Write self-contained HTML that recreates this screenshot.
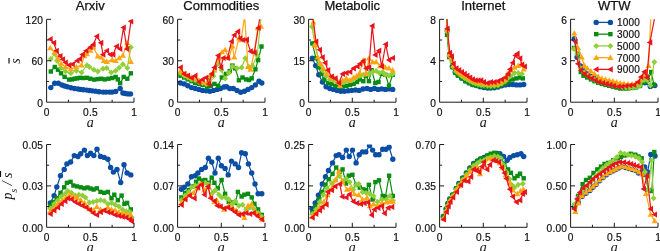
<!DOCTYPE html>
<html><head><meta charset="utf-8"><style>
html,body{margin:0;padding:0;background:#fff;}
svg{display:block;will-change:transform;}
.t{font-family:"Liberation Sans",sans-serif;font-size:10.2px;letter-spacing:0.2px;fill:#111;stroke:#111;stroke-width:0.2px;}
.ti{font-family:"Liberation Sans",sans-serif;font-size:13px;fill:#111;stroke:#111;stroke-width:0.25px;}
.lg{font-family:"Liberation Sans",sans-serif;font-size:10px;letter-spacing:0.2px;fill:#111;stroke:#111;stroke-width:0.2px;}
.ax{font-family:"Liberation Serif",serif;font-style:italic;font-size:14px;fill:#111;}
</style></head><body>
<svg width="660" height="251" viewBox="0 0 660 251">
<clipPath id="c00"><rect x="42.6" y="19.3" width="97.4" height="86.9"/></clipPath>
<g clip-path="url(#c00)">
<path d="M50.8 87.62 L54.73 83.2 L58.31 83.2 L61.9 84.93 L64.6 85.97 L67.31 86.73 L70.9 87.69 L74.48 88.52 L78.06 89.07 L80.69 89.42 L83.4 89.77 L86.8 90.11 L89.43 90.46 L92.4 90.87 L95.54 91.15 L99.04 91.7 L103.06 92.11 L106.03 92.11 L109.53 92.11 L112.15 92.11 L115.65 91.49 L120.19 88.52 L122.9 93.01 L125.26 93.56 L127.88 93.91 L130.5 93.91" fill="none" stroke="#0b4ea6" stroke-width="1.2" stroke-linejoin="round"/>
<circle cx="50.8" cy="87.62" r="2.7" fill="#0b4ea6"/>
<circle cx="54.73" cy="83.2" r="2.7" fill="#0b4ea6"/>
<circle cx="58.31" cy="83.2" r="2.7" fill="#0b4ea6"/>
<circle cx="61.9" cy="84.93" r="2.7" fill="#0b4ea6"/>
<circle cx="64.6" cy="85.97" r="2.7" fill="#0b4ea6"/>
<circle cx="67.31" cy="86.73" r="2.7" fill="#0b4ea6"/>
<circle cx="70.9" cy="87.69" r="2.7" fill="#0b4ea6"/>
<circle cx="74.48" cy="88.52" r="2.7" fill="#0b4ea6"/>
<circle cx="78.06" cy="89.07" r="2.7" fill="#0b4ea6"/>
<circle cx="80.69" cy="89.42" r="2.7" fill="#0b4ea6"/>
<circle cx="83.4" cy="89.77" r="2.7" fill="#0b4ea6"/>
<circle cx="86.8" cy="90.11" r="2.7" fill="#0b4ea6"/>
<circle cx="89.43" cy="90.46" r="2.7" fill="#0b4ea6"/>
<circle cx="92.4" cy="90.87" r="2.7" fill="#0b4ea6"/>
<circle cx="95.54" cy="91.15" r="2.7" fill="#0b4ea6"/>
<circle cx="99.04" cy="91.7" r="2.7" fill="#0b4ea6"/>
<circle cx="103.06" cy="92.11" r="2.7" fill="#0b4ea6"/>
<circle cx="106.03" cy="92.11" r="2.7" fill="#0b4ea6"/>
<circle cx="109.53" cy="92.11" r="2.7" fill="#0b4ea6"/>
<circle cx="112.15" cy="92.11" r="2.7" fill="#0b4ea6"/>
<circle cx="115.65" cy="91.49" r="2.7" fill="#0b4ea6"/>
<circle cx="120.19" cy="88.52" r="2.7" fill="#0b4ea6"/>
<circle cx="122.9" cy="93.01" r="2.7" fill="#0b4ea6"/>
<circle cx="125.26" cy="93.56" r="2.7" fill="#0b4ea6"/>
<circle cx="127.88" cy="93.91" r="2.7" fill="#0b4ea6"/>
<circle cx="130.5" cy="93.91" r="2.7" fill="#0b4ea6"/>
<path d="M50.8 71.53 L54.73 66.97 L57.96 69.73 L61.02 73.32 L64.6 76.92 L69.06 79.61 L71.95 79.4 L74.57 78.71 L77.19 78.37 L79.81 77.81 L83.31 78.02 L86.98 77.81 L90.3 78.71 L94.23 79.61 L97.73 79.06 L101.31 78.71 L104.72 79.4 L108.48 78.71 L112.15 78.02 L115.65 76.92 L117.83 79.4 L120.19 83.2 L123.69 76.92 L127.27 78.71 L130.85 73.32" fill="none" stroke="#0a8c12" stroke-width="1.2" stroke-linejoin="round"/>
<rect x="48.6" y="69.33" width="4.4" height="4.4" fill="#0a8c12"/>
<rect x="52.53" y="64.77" width="4.4" height="4.4" fill="#0a8c12"/>
<rect x="55.76" y="67.53" width="4.4" height="4.4" fill="#0a8c12"/>
<rect x="58.82" y="71.12" width="4.4" height="4.4" fill="#0a8c12"/>
<rect x="62.4" y="74.72" width="4.4" height="4.4" fill="#0a8c12"/>
<rect x="66.86" y="77.41" width="4.4" height="4.4" fill="#0a8c12"/>
<rect x="69.75" y="77.2" width="4.4" height="4.4" fill="#0a8c12"/>
<rect x="72.37" y="76.51" width="4.4" height="4.4" fill="#0a8c12"/>
<rect x="74.99" y="76.17" width="4.4" height="4.4" fill="#0a8c12"/>
<rect x="77.61" y="75.61" width="4.4" height="4.4" fill="#0a8c12"/>
<rect x="81.11" y="75.82" width="4.4" height="4.4" fill="#0a8c12"/>
<rect x="84.78" y="75.61" width="4.4" height="4.4" fill="#0a8c12"/>
<rect x="88.1" y="76.51" width="4.4" height="4.4" fill="#0a8c12"/>
<rect x="92.03" y="77.41" width="4.4" height="4.4" fill="#0a8c12"/>
<rect x="95.53" y="76.86" width="4.4" height="4.4" fill="#0a8c12"/>
<rect x="99.11" y="76.51" width="4.4" height="4.4" fill="#0a8c12"/>
<rect x="102.52" y="77.2" width="4.4" height="4.4" fill="#0a8c12"/>
<rect x="106.28" y="76.51" width="4.4" height="4.4" fill="#0a8c12"/>
<rect x="109.95" y="75.82" width="4.4" height="4.4" fill="#0a8c12"/>
<rect x="113.45" y="74.72" width="4.4" height="4.4" fill="#0a8c12"/>
<rect x="115.63" y="77.2" width="4.4" height="4.4" fill="#0a8c12"/>
<rect x="117.99" y="81" width="4.4" height="4.4" fill="#0a8c12"/>
<rect x="121.49" y="74.72" width="4.4" height="4.4" fill="#0a8c12"/>
<rect x="125.07" y="76.51" width="4.4" height="4.4" fill="#0a8c12"/>
<rect x="128.65" y="71.12" width="4.4" height="4.4" fill="#0a8c12"/>
<path d="M50.8 59.02 L54.73 53.63 L57.09 60.75 L61.02 67.93 L65.48 71.53 L70.9 73.32 L76.32 70.63 L81.56 72.43 L86.98 65.17 L89.43 66.97 L93.8 69.73 L97.82 71.53 L103.06 68.83 L106.73 67.93 L111.19 72.43 L115.65 70.63 L119.14 67.66 L122.9 64.27 L127.27 67.93 L130.85 47.21" fill="none" stroke="#8fd03a" stroke-width="1.2" stroke-linejoin="round"/>
<path d="M50.8 56.02L53.8 59.02L50.8 62.02L47.8 59.02Z" fill="#8fd03a"/>
<path d="M54.73 50.63L57.73 53.63L54.73 56.63L51.73 53.63Z" fill="#8fd03a"/>
<path d="M57.09 57.75L60.09 60.75L57.09 63.75L54.09 60.75Z" fill="#8fd03a"/>
<path d="M61.02 64.93L64.02 67.93L61.02 70.93L58.02 67.93Z" fill="#8fd03a"/>
<path d="M65.48 68.53L68.48 71.53L65.48 74.53L62.48 71.53Z" fill="#8fd03a"/>
<path d="M70.9 70.32L73.9 73.32L70.9 76.32L67.9 73.32Z" fill="#8fd03a"/>
<path d="M76.32 67.63L79.32 70.63L76.32 73.63L73.32 70.63Z" fill="#8fd03a"/>
<path d="M81.56 69.43L84.56 72.43L81.56 75.43L78.56 72.43Z" fill="#8fd03a"/>
<path d="M86.98 62.17L89.98 65.17L86.98 68.17L83.98 65.17Z" fill="#8fd03a"/>
<path d="M89.43 63.97L92.43 66.97L89.43 69.97L86.43 66.97Z" fill="#8fd03a"/>
<path d="M93.8 66.73L96.8 69.73L93.8 72.73L90.8 69.73Z" fill="#8fd03a"/>
<path d="M97.82 68.53L100.82 71.53L97.82 74.53L94.82 71.53Z" fill="#8fd03a"/>
<path d="M103.06 65.83L106.06 68.83L103.06 71.83L100.06 68.83Z" fill="#8fd03a"/>
<path d="M106.73 64.93L109.73 67.93L106.73 70.93L103.73 67.93Z" fill="#8fd03a"/>
<path d="M111.19 69.43L114.19 72.43L111.19 75.43L108.19 72.43Z" fill="#8fd03a"/>
<path d="M115.65 67.63L118.65 70.63L115.65 73.63L112.65 70.63Z" fill="#8fd03a"/>
<path d="M119.14 64.66L122.14 67.66L119.14 70.66L116.14 67.66Z" fill="#8fd03a"/>
<path d="M122.9 61.27L125.9 64.27L122.9 67.27L119.9 64.27Z" fill="#8fd03a"/>
<path d="M127.27 64.93L130.27 67.93L127.27 70.93L124.27 67.93Z" fill="#8fd03a"/>
<path d="M130.85 44.21L133.85 47.21L130.85 50.21L127.85 47.21Z" fill="#8fd03a"/>
<path d="M50.27 47.97 L54.47 52.46 L57.96 58.68 L61.02 63.51 L65.48 66.97 L70.9 68.83 L76.32 66.97 L81.56 65.17 L84.18 55.91 L86.8 53.84 L90.3 50.39 L93.27 47.21 L97.82 56.12 L101.31 57.3 L103.85 60.75 L106.73 61.58 L112.15 59.92 L115.65 60.75 L119.14 57.99 L122.9 55.36 L127.27 42.79 L130.85 61.58" fill="none" stroke="#ffa510" stroke-width="1.2" stroke-linejoin="round"/>
<path d="M50.27 44.87L53.37 50.29L47.17 50.29Z" fill="#ffa510"/>
<path d="M54.47 49.36L57.57 54.79L51.37 54.79Z" fill="#ffa510"/>
<path d="M57.96 55.58L61.06 61L54.86 61Z" fill="#ffa510"/>
<path d="M61.02 60.41L64.12 65.84L57.92 65.84Z" fill="#ffa510"/>
<path d="M65.48 63.87L68.58 69.29L62.38 69.29Z" fill="#ffa510"/>
<path d="M70.9 65.73L74 71.16L67.8 71.16Z" fill="#ffa510"/>
<path d="M76.32 63.87L79.42 69.29L73.22 69.29Z" fill="#ffa510"/>
<path d="M81.56 62.07L84.66 67.5L78.46 67.5Z" fill="#ffa510"/>
<path d="M84.18 52.81L87.28 58.24L81.08 58.24Z" fill="#ffa510"/>
<path d="M86.8 50.74L89.9 56.17L83.7 56.17Z" fill="#ffa510"/>
<path d="M90.3 47.29L93.4 52.71L87.2 52.71Z" fill="#ffa510"/>
<path d="M93.27 44.11L96.37 49.53L90.17 49.53Z" fill="#ffa510"/>
<path d="M97.82 53.02L100.92 58.45L94.72 58.45Z" fill="#ffa510"/>
<path d="M101.31 54.2L104.41 59.62L98.21 59.62Z" fill="#ffa510"/>
<path d="M103.85 57.65L106.95 63.08L100.75 63.08Z" fill="#ffa510"/>
<path d="M106.73 58.48L109.83 63.9L103.63 63.9Z" fill="#ffa510"/>
<path d="M112.15 56.82L115.25 62.25L109.05 62.25Z" fill="#ffa510"/>
<path d="M115.65 57.65L118.75 63.08L112.55 63.08Z" fill="#ffa510"/>
<path d="M119.14 54.89L122.24 60.31L116.04 60.31Z" fill="#ffa510"/>
<path d="M122.9 52.26L126 57.69L119.8 57.69Z" fill="#ffa510"/>
<path d="M127.27 39.69L130.37 45.11L124.17 45.11Z" fill="#ffa510"/>
<path d="M130.85 58.48L133.95 63.9L127.75 63.9Z" fill="#ffa510"/>
<path d="M50.27 39.13 L53.85 42.79 L56.48 50.73 L60.15 56.12 L62.77 59.37 L65.48 62.48 L69.06 65.17 L72.47 64.27 L77.19 60.75 L79.81 59.02 L82.43 54.53 L86.1 50.73 L90.3 47.21 L93.27 44.52 L96.86 36.36 L100.96 42.79 L103.06 54.53 L106.73 50.73 L110.31 54.53 L113.02 54.53 L116.52 46.31 L120.02 49.01 L123.51 27.59 L127.01 49.01 L130.94 21.37" fill="none" stroke="#e8141c" stroke-width="1.2" stroke-linejoin="round"/>
<path d="M47.17 39.13L52.6 36.03L52.6 42.23Z" fill="#e8141c"/>
<path d="M50.75 42.79L56.18 39.69L56.18 45.89Z" fill="#e8141c"/>
<path d="M53.38 50.73L58.8 47.63L58.8 53.83Z" fill="#e8141c"/>
<path d="M57.05 56.12L62.47 53.02L62.47 59.22Z" fill="#e8141c"/>
<path d="M59.67 59.37L65.09 56.27L65.09 62.47Z" fill="#e8141c"/>
<path d="M62.38 62.48L67.8 59.38L67.8 65.58Z" fill="#e8141c"/>
<path d="M65.96 65.17L71.39 62.07L71.39 68.27Z" fill="#e8141c"/>
<path d="M69.37 64.27L74.8 61.17L74.8 67.37Z" fill="#e8141c"/>
<path d="M74.09 60.75L79.52 57.65L79.52 63.85Z" fill="#e8141c"/>
<path d="M76.71 59.02L82.14 55.92L82.14 62.12Z" fill="#e8141c"/>
<path d="M79.33 54.53L84.76 51.43L84.76 57.63Z" fill="#e8141c"/>
<path d="M83 50.73L88.43 47.63L88.43 53.83Z" fill="#e8141c"/>
<path d="M87.2 47.21L92.63 44.11L92.63 50.31Z" fill="#e8141c"/>
<path d="M90.17 44.52L95.6 41.42L95.6 47.62Z" fill="#e8141c"/>
<path d="M93.76 36.36L99.18 33.26L99.18 39.46Z" fill="#e8141c"/>
<path d="M97.86 42.79L103.29 39.69L103.29 45.89Z" fill="#e8141c"/>
<path d="M99.96 54.53L105.39 51.43L105.39 57.63Z" fill="#e8141c"/>
<path d="M103.63 50.73L109.06 47.63L109.06 53.83Z" fill="#e8141c"/>
<path d="M107.21 54.53L112.64 51.43L112.64 57.63Z" fill="#e8141c"/>
<path d="M109.92 54.53L115.35 51.43L115.35 57.63Z" fill="#e8141c"/>
<path d="M113.42 46.31L118.85 43.21L118.85 49.41Z" fill="#e8141c"/>
<path d="M116.92 49.01L122.34 45.91L122.34 52.11Z" fill="#e8141c"/>
<path d="M120.41 27.59L125.84 24.49L125.84 30.69Z" fill="#e8141c"/>
<path d="M123.91 49.01L129.33 45.91L129.33 52.11Z" fill="#e8141c"/>
<path d="M127.84 21.37L133.27 18.27L133.27 24.47Z" fill="#e8141c"/>
</g>
<path d="M46.6 19.3V102.2H134" fill="none" stroke="#1a1a1a" stroke-width="1"/>
<path d="M46.6 19.3h4.5M46.6 40.02h2.5M46.6 60.75h4.5M46.6 81.47h2.5M68.45 102.2v-2.5M90.3 102.2v-4.5M112.15 102.2v-2.5M134 102.2v-4.5" fill="none" stroke="#1a1a1a" stroke-width="1"/>
<text x="43.2" y="23.8" text-anchor="end" class="t">120</text>
<text x="43.2" y="65.25" text-anchor="end" class="t">60</text>
<text x="43.2" y="106.7" text-anchor="end" class="t">0</text>
<text x="46.8" y="115.7" text-anchor="middle" class="t">0</text>
<text x="90.5" y="115.7" text-anchor="middle" class="t">0.5</text>
<text x="134.2" y="115.7" text-anchor="middle" class="t">1</text>
<text x="90.3" y="126.8" text-anchor="middle" class="ax">a</text>
<text x="90.3" y="9.8" text-anchor="middle" class="ti">Arxiv</text>
<clipPath id="c01"><rect x="173.6" y="19.3" width="97.4" height="86.9"/></clipPath>
<g clip-path="url(#c01)">
<path d="M180.5 83 L184.2 83.9 L187.8 85.8 L191.5 87.6 L195.2 88.5 L198.9 89.4 L202.5 90.4 L206.2 90.7 L209.9 91.3 L213.5 90.4 L217.2 89.4 L220.5 88.5 L224 87 L226.5 86.7 L229.7 88.5 L233.3 88.5 L237 90.4 L240.7 92.2 L244.4 91.3 L248 89.4 L251.7 87.6 L255.4 84.9 L259 81.2 L261.8 83" fill="none" stroke="#0b4ea6" stroke-width="1.2" stroke-linejoin="round"/>
<circle cx="180.5" cy="83" r="2.7" fill="#0b4ea6"/>
<circle cx="184.2" cy="83.9" r="2.7" fill="#0b4ea6"/>
<circle cx="187.8" cy="85.8" r="2.7" fill="#0b4ea6"/>
<circle cx="191.5" cy="87.6" r="2.7" fill="#0b4ea6"/>
<circle cx="195.2" cy="88.5" r="2.7" fill="#0b4ea6"/>
<circle cx="198.9" cy="89.4" r="2.7" fill="#0b4ea6"/>
<circle cx="202.5" cy="90.4" r="2.7" fill="#0b4ea6"/>
<circle cx="206.2" cy="90.7" r="2.7" fill="#0b4ea6"/>
<circle cx="209.9" cy="91.3" r="2.7" fill="#0b4ea6"/>
<circle cx="213.5" cy="90.4" r="2.7" fill="#0b4ea6"/>
<circle cx="217.2" cy="89.4" r="2.7" fill="#0b4ea6"/>
<circle cx="220.5" cy="88.5" r="2.7" fill="#0b4ea6"/>
<circle cx="224" cy="87" r="2.7" fill="#0b4ea6"/>
<circle cx="226.5" cy="86.7" r="2.7" fill="#0b4ea6"/>
<circle cx="229.7" cy="88.5" r="2.7" fill="#0b4ea6"/>
<circle cx="233.3" cy="88.5" r="2.7" fill="#0b4ea6"/>
<circle cx="237" cy="90.4" r="2.7" fill="#0b4ea6"/>
<circle cx="240.7" cy="92.2" r="2.7" fill="#0b4ea6"/>
<circle cx="244.4" cy="91.3" r="2.7" fill="#0b4ea6"/>
<circle cx="248" cy="89.4" r="2.7" fill="#0b4ea6"/>
<circle cx="251.7" cy="87.6" r="2.7" fill="#0b4ea6"/>
<circle cx="255.4" cy="84.9" r="2.7" fill="#0b4ea6"/>
<circle cx="259" cy="81.2" r="2.7" fill="#0b4ea6"/>
<circle cx="261.8" cy="83" r="2.7" fill="#0b4ea6"/>
<path d="M180.5 75.7 L184.2 77.5 L187.8 79.4 L191.5 81.2 L195.2 83 L198.9 83.9 L202.5 84.9 L207.1 86.7 L210.8 85.8 L214.4 83.9 L218.1 85.8 L221.8 77.5 L226 73.9 L229.7 71.1 L232.4 65.6 L235.2 68.3 L238.9 80.3 L242.5 77.5 L246.2 79.4 L249 80 L251.7 78.4 L255.4 69.3 L258.1 60.1 L261.5 46.5" fill="none" stroke="#0a8c12" stroke-width="1.2" stroke-linejoin="round"/>
<rect x="178.3" y="73.5" width="4.4" height="4.4" fill="#0a8c12"/>
<rect x="182" y="75.3" width="4.4" height="4.4" fill="#0a8c12"/>
<rect x="185.6" y="77.2" width="4.4" height="4.4" fill="#0a8c12"/>
<rect x="189.3" y="79" width="4.4" height="4.4" fill="#0a8c12"/>
<rect x="193" y="80.8" width="4.4" height="4.4" fill="#0a8c12"/>
<rect x="196.7" y="81.7" width="4.4" height="4.4" fill="#0a8c12"/>
<rect x="200.3" y="82.7" width="4.4" height="4.4" fill="#0a8c12"/>
<rect x="204.9" y="84.5" width="4.4" height="4.4" fill="#0a8c12"/>
<rect x="208.6" y="83.6" width="4.4" height="4.4" fill="#0a8c12"/>
<rect x="212.2" y="81.7" width="4.4" height="4.4" fill="#0a8c12"/>
<rect x="215.9" y="83.6" width="4.4" height="4.4" fill="#0a8c12"/>
<rect x="219.6" y="75.3" width="4.4" height="4.4" fill="#0a8c12"/>
<rect x="223.8" y="71.7" width="4.4" height="4.4" fill="#0a8c12"/>
<rect x="227.5" y="68.9" width="4.4" height="4.4" fill="#0a8c12"/>
<rect x="230.2" y="63.4" width="4.4" height="4.4" fill="#0a8c12"/>
<rect x="233" y="66.1" width="4.4" height="4.4" fill="#0a8c12"/>
<rect x="236.7" y="78.1" width="4.4" height="4.4" fill="#0a8c12"/>
<rect x="240.3" y="75.3" width="4.4" height="4.4" fill="#0a8c12"/>
<rect x="244" y="77.2" width="4.4" height="4.4" fill="#0a8c12"/>
<rect x="246.8" y="77.8" width="4.4" height="4.4" fill="#0a8c12"/>
<rect x="249.5" y="76.2" width="4.4" height="4.4" fill="#0a8c12"/>
<rect x="253.2" y="67.1" width="4.4" height="4.4" fill="#0a8c12"/>
<rect x="255.9" y="57.9" width="4.4" height="4.4" fill="#0a8c12"/>
<rect x="259.3" y="44.3" width="4.4" height="4.4" fill="#0a8c12"/>
<path d="M180.5 72.9 L184.2 75.7 L187.8 77.5 L191.5 79.4 L195.2 80.3 L198.9 82.1 L202.5 83 L206.2 83.9 L209.9 79.4 L213.5 76 L217.8 63.8 L221.5 70 L225.1 78.4 L228.8 72.9 L232.4 66.5 L237 68.3 L241.6 67.4 L245.3 58.3 L249 67 L252.5 66 L257.2 55.5 L262.3 4" fill="none" stroke="#8fd03a" stroke-width="1.2" stroke-linejoin="round"/>
<path d="M180.5 69.9L183.5 72.9L180.5 75.9L177.5 72.9Z" fill="#8fd03a"/>
<path d="M184.2 72.7L187.2 75.7L184.2 78.7L181.2 75.7Z" fill="#8fd03a"/>
<path d="M187.8 74.5L190.8 77.5L187.8 80.5L184.8 77.5Z" fill="#8fd03a"/>
<path d="M191.5 76.4L194.5 79.4L191.5 82.4L188.5 79.4Z" fill="#8fd03a"/>
<path d="M195.2 77.3L198.2 80.3L195.2 83.3L192.2 80.3Z" fill="#8fd03a"/>
<path d="M198.9 79.1L201.9 82.1L198.9 85.1L195.9 82.1Z" fill="#8fd03a"/>
<path d="M202.5 80L205.5 83L202.5 86L199.5 83Z" fill="#8fd03a"/>
<path d="M206.2 80.9L209.2 83.9L206.2 86.9L203.2 83.9Z" fill="#8fd03a"/>
<path d="M209.9 76.4L212.9 79.4L209.9 82.4L206.9 79.4Z" fill="#8fd03a"/>
<path d="M213.5 73L216.5 76L213.5 79L210.5 76Z" fill="#8fd03a"/>
<path d="M217.8 60.8L220.8 63.8L217.8 66.8L214.8 63.8Z" fill="#8fd03a"/>
<path d="M221.5 67L224.5 70L221.5 73L218.5 70Z" fill="#8fd03a"/>
<path d="M225.1 75.4L228.1 78.4L225.1 81.4L222.1 78.4Z" fill="#8fd03a"/>
<path d="M228.8 69.9L231.8 72.9L228.8 75.9L225.8 72.9Z" fill="#8fd03a"/>
<path d="M232.4 63.5L235.4 66.5L232.4 69.5L229.4 66.5Z" fill="#8fd03a"/>
<path d="M237 65.3L240 68.3L237 71.3L234 68.3Z" fill="#8fd03a"/>
<path d="M241.6 64.4L244.6 67.4L241.6 70.4L238.6 67.4Z" fill="#8fd03a"/>
<path d="M245.3 55.3L248.3 58.3L245.3 61.3L242.3 58.3Z" fill="#8fd03a"/>
<path d="M249 64L252 67L249 70L246 67Z" fill="#8fd03a"/>
<path d="M252.5 63L255.5 66L252.5 69L249.5 66Z" fill="#8fd03a"/>
<path d="M257.2 52.5L260.2 55.5L257.2 58.5L254.2 55.5Z" fill="#8fd03a"/>
<path d="M262.3 1L265.3 4L262.3 7L259.3 4Z" fill="#8fd03a"/>
<path d="M180.5 71.1 L184.2 73.9 L187.8 75.7 L191.5 77.5 L195.2 78.4 L198.9 80.3 L202.5 82.1 L207.1 83 L210.8 74.8 L214.4 70.2 L219 58.3 L222 52 L225.1 49.8 L228.8 58 L232.4 46.1 L234.3 57.1 L238.9 38.3 L241 40 L244.7 16.3 L248 66.8 L250.5 69.4 L254.4 51.3 L257.8 28 L261 26.5" fill="none" stroke="#ffa510" stroke-width="1.2" stroke-linejoin="round"/>
<path d="M180.5 68L183.6 73.42L177.4 73.42Z" fill="#ffa510"/>
<path d="M184.2 70.8L187.3 76.23L181.1 76.23Z" fill="#ffa510"/>
<path d="M187.8 72.6L190.9 78.03L184.7 78.03Z" fill="#ffa510"/>
<path d="M191.5 74.4L194.6 79.83L188.4 79.83Z" fill="#ffa510"/>
<path d="M195.2 75.3L198.3 80.73L192.1 80.73Z" fill="#ffa510"/>
<path d="M198.9 77.2L202 82.62L195.8 82.62Z" fill="#ffa510"/>
<path d="M202.5 79L205.6 84.42L199.4 84.42Z" fill="#ffa510"/>
<path d="M207.1 79.9L210.2 85.33L204 85.33Z" fill="#ffa510"/>
<path d="M210.8 71.7L213.9 77.12L207.7 77.12Z" fill="#ffa510"/>
<path d="M214.4 67.1L217.5 72.53L211.3 72.53Z" fill="#ffa510"/>
<path d="M219 55.2L222.1 60.62L215.9 60.62Z" fill="#ffa510"/>
<path d="M222 48.9L225.1 54.33L218.9 54.33Z" fill="#ffa510"/>
<path d="M225.1 46.7L228.2 52.12L222 52.12Z" fill="#ffa510"/>
<path d="M228.8 54.9L231.9 60.33L225.7 60.33Z" fill="#ffa510"/>
<path d="M232.4 43L235.5 48.43L229.3 48.43Z" fill="#ffa510"/>
<path d="M234.3 54L237.4 59.43L231.2 59.43Z" fill="#ffa510"/>
<path d="M238.9 35.2L242 40.62L235.8 40.62Z" fill="#ffa510"/>
<path d="M241 36.9L244.1 42.33L237.9 42.33Z" fill="#ffa510"/>
<path d="M244.7 13.2L247.8 18.62L241.6 18.62Z" fill="#ffa510"/>
<path d="M248 63.7L251.1 69.12L244.9 69.12Z" fill="#ffa510"/>
<path d="M250.5 66.3L253.6 71.73L247.4 71.73Z" fill="#ffa510"/>
<path d="M254.4 48.2L257.5 53.62L251.3 53.62Z" fill="#ffa510"/>
<path d="M257.8 24.9L260.9 30.32L254.7 30.32Z" fill="#ffa510"/>
<path d="M261 23.4L264.1 28.82L257.9 28.82Z" fill="#ffa510"/>
<path d="M180.5 67.4 L184.2 73.9 L187.8 75.7 L191.5 78 L195.2 75.7 L198.9 82.1 L202.5 79.4 L206.2 77.5 L208.9 83.9 L211.7 73.9 L214.4 67.4 L218.1 55.5 L220.9 67.4 L223.3 58 L227.5 58 L231.5 41.5 L234.3 35.1 L237.9 31.4 L240.2 38.3 L243 40 L246.7 39.6 L250.5 51.3 L254.4 52.6 L258.3 28 L261.6 4" fill="none" stroke="#e8141c" stroke-width="1.2" stroke-linejoin="round"/>
<path d="M177.4 67.4L182.82 64.3L182.82 70.5Z" fill="#e8141c"/>
<path d="M181.1 73.9L186.52 70.8L186.52 77Z" fill="#e8141c"/>
<path d="M184.7 75.7L190.12 72.6L190.12 78.8Z" fill="#e8141c"/>
<path d="M188.4 78L193.82 74.9L193.82 81.1Z" fill="#e8141c"/>
<path d="M192.1 75.7L197.52 72.6L197.52 78.8Z" fill="#e8141c"/>
<path d="M195.8 82.1L201.22 79L201.22 85.2Z" fill="#e8141c"/>
<path d="M199.4 79.4L204.82 76.3L204.82 82.5Z" fill="#e8141c"/>
<path d="M203.1 77.5L208.52 74.4L208.52 80.6Z" fill="#e8141c"/>
<path d="M205.8 83.9L211.22 80.8L211.22 87Z" fill="#e8141c"/>
<path d="M208.6 73.9L214.02 70.8L214.02 77Z" fill="#e8141c"/>
<path d="M211.3 67.4L216.72 64.3L216.72 70.5Z" fill="#e8141c"/>
<path d="M215 55.5L220.42 52.4L220.42 58.6Z" fill="#e8141c"/>
<path d="M217.8 67.4L223.22 64.3L223.22 70.5Z" fill="#e8141c"/>
<path d="M220.2 58L225.62 54.9L225.62 61.1Z" fill="#e8141c"/>
<path d="M224.4 58L229.82 54.9L229.82 61.1Z" fill="#e8141c"/>
<path d="M228.4 41.5L233.82 38.4L233.82 44.6Z" fill="#e8141c"/>
<path d="M231.2 35.1L236.62 32L236.62 38.2Z" fill="#e8141c"/>
<path d="M234.8 31.4L240.22 28.3L240.22 34.5Z" fill="#e8141c"/>
<path d="M237.1 38.3L242.52 35.2L242.52 41.4Z" fill="#e8141c"/>
<path d="M239.9 40L245.32 36.9L245.32 43.1Z" fill="#e8141c"/>
<path d="M243.6 39.6L249.02 36.5L249.02 42.7Z" fill="#e8141c"/>
<path d="M247.4 51.3L252.82 48.2L252.82 54.4Z" fill="#e8141c"/>
<path d="M251.3 52.6L256.73 49.5L256.73 55.7Z" fill="#e8141c"/>
<path d="M255.2 28L260.62 24.9L260.62 31.1Z" fill="#e8141c"/>
<path d="M258.5 4L263.93 0.9L263.93 7.1Z" fill="#e8141c"/>
</g>
<path d="M177.6 19.3V102.2H265" fill="none" stroke="#1a1a1a" stroke-width="1"/>
<path d="M177.6 19.3h4.5M177.6 40.02h2.5M177.6 60.75h4.5M177.6 81.47h2.5M199.45 102.2v-2.5M221.3 102.2v-4.5M243.15 102.2v-2.5M265 102.2v-4.5" fill="none" stroke="#1a1a1a" stroke-width="1"/>
<text x="174.2" y="23.8" text-anchor="end" class="t">60</text>
<text x="174.2" y="65.25" text-anchor="end" class="t">30</text>
<text x="174.2" y="106.7" text-anchor="end" class="t">0</text>
<text x="177.8" y="115.7" text-anchor="middle" class="t">0</text>
<text x="221.5" y="115.7" text-anchor="middle" class="t">0.5</text>
<text x="265.2" y="115.7" text-anchor="middle" class="t">1</text>
<text x="221.3" y="126.8" text-anchor="middle" class="ax">a</text>
<text x="221.3" y="9.8" text-anchor="middle" class="ti">Commodities</text>
<clipPath id="c02"><rect x="304.6" y="19.3" width="97.4" height="86.9"/></clipPath>
<g clip-path="url(#c02)">
<path d="M312.3 58.3 L315.6 65.6 L318.8 74.8 L322.4 82.1 L326.1 86.7 L329.8 88.5 L333.4 89.4 L337.1 90.4 L340.8 91.3 L344.4 91.3 L348.1 90.7 L351.8 90.4 L355.5 90 L359.1 90.4 L363 89 L367 88.5 L370.7 89.4 L374.4 88.5 L378 89.4 L381.7 88.9 L385.4 89.4 L389 88.9 L392.7 89.4" fill="none" stroke="#0b4ea6" stroke-width="1.2" stroke-linejoin="round"/>
<circle cx="312.3" cy="58.3" r="2.7" fill="#0b4ea6"/>
<circle cx="315.6" cy="65.6" r="2.7" fill="#0b4ea6"/>
<circle cx="318.8" cy="74.8" r="2.7" fill="#0b4ea6"/>
<circle cx="322.4" cy="82.1" r="2.7" fill="#0b4ea6"/>
<circle cx="326.1" cy="86.7" r="2.7" fill="#0b4ea6"/>
<circle cx="329.8" cy="88.5" r="2.7" fill="#0b4ea6"/>
<circle cx="333.4" cy="89.4" r="2.7" fill="#0b4ea6"/>
<circle cx="337.1" cy="90.4" r="2.7" fill="#0b4ea6"/>
<circle cx="340.8" cy="91.3" r="2.7" fill="#0b4ea6"/>
<circle cx="344.4" cy="91.3" r="2.7" fill="#0b4ea6"/>
<circle cx="348.1" cy="90.7" r="2.7" fill="#0b4ea6"/>
<circle cx="351.8" cy="90.4" r="2.7" fill="#0b4ea6"/>
<circle cx="355.5" cy="90" r="2.7" fill="#0b4ea6"/>
<circle cx="359.1" cy="90.4" r="2.7" fill="#0b4ea6"/>
<circle cx="363" cy="89" r="2.7" fill="#0b4ea6"/>
<circle cx="367" cy="88.5" r="2.7" fill="#0b4ea6"/>
<circle cx="370.7" cy="89.4" r="2.7" fill="#0b4ea6"/>
<circle cx="374.4" cy="88.5" r="2.7" fill="#0b4ea6"/>
<circle cx="378" cy="89.4" r="2.7" fill="#0b4ea6"/>
<circle cx="381.7" cy="88.9" r="2.7" fill="#0b4ea6"/>
<circle cx="385.4" cy="89.4" r="2.7" fill="#0b4ea6"/>
<circle cx="389" cy="88.9" r="2.7" fill="#0b4ea6"/>
<circle cx="392.7" cy="89.4" r="2.7" fill="#0b4ea6"/>
<path d="M312.3 43.4 L316 58.3 L318.8 67.4 L321.5 73.9 L324.3 79.4 L327.9 83 L331.6 83.9 L335.3 85.8 L338.9 86.7 L342.6 86.7 L346.3 85.8 L350 84.9 L353.6 83.9 L357 82 L359.7 79.4 L363.3 81.2 L366 76 L368.9 81.2 L371.6 70.2 L375.3 83 L378.5 82 L381.7 73.9 L385.4 74.8 L389 85.8 L392.7 74.8" fill="none" stroke="#0a8c12" stroke-width="1.2" stroke-linejoin="round"/>
<rect x="310.1" y="41.2" width="4.4" height="4.4" fill="#0a8c12"/>
<rect x="313.8" y="56.1" width="4.4" height="4.4" fill="#0a8c12"/>
<rect x="316.6" y="65.2" width="4.4" height="4.4" fill="#0a8c12"/>
<rect x="319.3" y="71.7" width="4.4" height="4.4" fill="#0a8c12"/>
<rect x="322.1" y="77.2" width="4.4" height="4.4" fill="#0a8c12"/>
<rect x="325.7" y="80.8" width="4.4" height="4.4" fill="#0a8c12"/>
<rect x="329.4" y="81.7" width="4.4" height="4.4" fill="#0a8c12"/>
<rect x="333.1" y="83.6" width="4.4" height="4.4" fill="#0a8c12"/>
<rect x="336.7" y="84.5" width="4.4" height="4.4" fill="#0a8c12"/>
<rect x="340.4" y="84.5" width="4.4" height="4.4" fill="#0a8c12"/>
<rect x="344.1" y="83.6" width="4.4" height="4.4" fill="#0a8c12"/>
<rect x="347.8" y="82.7" width="4.4" height="4.4" fill="#0a8c12"/>
<rect x="351.4" y="81.7" width="4.4" height="4.4" fill="#0a8c12"/>
<rect x="354.8" y="79.8" width="4.4" height="4.4" fill="#0a8c12"/>
<rect x="357.5" y="77.2" width="4.4" height="4.4" fill="#0a8c12"/>
<rect x="361.1" y="79" width="4.4" height="4.4" fill="#0a8c12"/>
<rect x="363.8" y="73.8" width="4.4" height="4.4" fill="#0a8c12"/>
<rect x="366.7" y="79" width="4.4" height="4.4" fill="#0a8c12"/>
<rect x="369.4" y="68" width="4.4" height="4.4" fill="#0a8c12"/>
<rect x="373.1" y="80.8" width="4.4" height="4.4" fill="#0a8c12"/>
<rect x="376.3" y="79.8" width="4.4" height="4.4" fill="#0a8c12"/>
<rect x="379.5" y="71.7" width="4.4" height="4.4" fill="#0a8c12"/>
<rect x="383.2" y="72.6" width="4.4" height="4.4" fill="#0a8c12"/>
<rect x="386.8" y="83.6" width="4.4" height="4.4" fill="#0a8c12"/>
<rect x="390.5" y="72.6" width="4.4" height="4.4" fill="#0a8c12"/>
<path d="M312 26.8 L315 45 L319.7 63.8 L322.4 70.2 L326.1 75.7 L329.8 79.4 L333.4 80.3 L337.1 82.1 L340.8 83 L344.4 82.1 L348 81 L351.8 80.3 L355.5 78 L359.7 75.7 L363.3 74.8 L366 74 L368.9 73.9 L372.5 72 L376.2 71.1 L379.5 73 L382.7 72 L385.4 74.8 L389 75.7 L392.7 73.9" fill="none" stroke="#8fd03a" stroke-width="1.2" stroke-linejoin="round"/>
<path d="M312 23.8L315 26.8L312 29.8L309 26.8Z" fill="#8fd03a"/>
<path d="M315 42L318 45L315 48L312 45Z" fill="#8fd03a"/>
<path d="M319.7 60.8L322.7 63.8L319.7 66.8L316.7 63.8Z" fill="#8fd03a"/>
<path d="M322.4 67.2L325.4 70.2L322.4 73.2L319.4 70.2Z" fill="#8fd03a"/>
<path d="M326.1 72.7L329.1 75.7L326.1 78.7L323.1 75.7Z" fill="#8fd03a"/>
<path d="M329.8 76.4L332.8 79.4L329.8 82.4L326.8 79.4Z" fill="#8fd03a"/>
<path d="M333.4 77.3L336.4 80.3L333.4 83.3L330.4 80.3Z" fill="#8fd03a"/>
<path d="M337.1 79.1L340.1 82.1L337.1 85.1L334.1 82.1Z" fill="#8fd03a"/>
<path d="M340.8 80L343.8 83L340.8 86L337.8 83Z" fill="#8fd03a"/>
<path d="M344.4 79.1L347.4 82.1L344.4 85.1L341.4 82.1Z" fill="#8fd03a"/>
<path d="M348 78L351 81L348 84L345 81Z" fill="#8fd03a"/>
<path d="M351.8 77.3L354.8 80.3L351.8 83.3L348.8 80.3Z" fill="#8fd03a"/>
<path d="M355.5 75L358.5 78L355.5 81L352.5 78Z" fill="#8fd03a"/>
<path d="M359.7 72.7L362.7 75.7L359.7 78.7L356.7 75.7Z" fill="#8fd03a"/>
<path d="M363.3 71.8L366.3 74.8L363.3 77.8L360.3 74.8Z" fill="#8fd03a"/>
<path d="M366 71L369 74L366 77L363 74Z" fill="#8fd03a"/>
<path d="M368.9 70.9L371.9 73.9L368.9 76.9L365.9 73.9Z" fill="#8fd03a"/>
<path d="M372.5 69L375.5 72L372.5 75L369.5 72Z" fill="#8fd03a"/>
<path d="M376.2 68.1L379.2 71.1L376.2 74.1L373.2 71.1Z" fill="#8fd03a"/>
<path d="M379.5 70L382.5 73L379.5 76L376.5 73Z" fill="#8fd03a"/>
<path d="M382.7 69L385.7 72L382.7 75L379.7 72Z" fill="#8fd03a"/>
<path d="M385.4 71.8L388.4 74.8L385.4 77.8L382.4 74.8Z" fill="#8fd03a"/>
<path d="M389 72.7L392 75.7L389 78.7L386 75.7Z" fill="#8fd03a"/>
<path d="M392.7 70.9L395.7 73.9L392.7 76.9L389.7 73.9Z" fill="#8fd03a"/>
<path d="M313.3 22.3 L315.1 45.2 L317.8 57.3 L320.6 63.8 L323.3 68.3 L327 73.9 L330.7 76.6 L334.4 78.4 L337.5 81 L339.9 85.8 L342.6 80.3 L346.3 78.4 L350 80.3 L353.6 77.5 L356.5 76 L359.7 72.9 L363.3 60.1 L366.1 73.9 L368.9 58.3 L372.5 62 L376.2 61.9 L380 66 L383 65 L385.4 67.4 L389 68.3 L392.7 70.2" fill="none" stroke="#ffa510" stroke-width="1.2" stroke-linejoin="round"/>
<path d="M313.3 19.2L316.4 24.62L310.2 24.62Z" fill="#ffa510"/>
<path d="M315.1 42.1L318.2 47.53L312 47.53Z" fill="#ffa510"/>
<path d="M317.8 54.2L320.9 59.62L314.7 59.62Z" fill="#ffa510"/>
<path d="M320.6 60.7L323.7 66.12L317.5 66.12Z" fill="#ffa510"/>
<path d="M323.3 65.2L326.4 70.62L320.2 70.62Z" fill="#ffa510"/>
<path d="M327 70.8L330.1 76.23L323.9 76.23Z" fill="#ffa510"/>
<path d="M330.7 73.5L333.8 78.92L327.6 78.92Z" fill="#ffa510"/>
<path d="M334.4 75.3L337.5 80.73L331.3 80.73Z" fill="#ffa510"/>
<path d="M337.5 77.9L340.6 83.33L334.4 83.33Z" fill="#ffa510"/>
<path d="M339.9 82.7L343 88.12L336.8 88.12Z" fill="#ffa510"/>
<path d="M342.6 77.2L345.7 82.62L339.5 82.62Z" fill="#ffa510"/>
<path d="M346.3 75.3L349.4 80.73L343.2 80.73Z" fill="#ffa510"/>
<path d="M350 77.2L353.1 82.62L346.9 82.62Z" fill="#ffa510"/>
<path d="M353.6 74.4L356.7 79.83L350.5 79.83Z" fill="#ffa510"/>
<path d="M356.5 72.9L359.6 78.33L353.4 78.33Z" fill="#ffa510"/>
<path d="M359.7 69.8L362.8 75.23L356.6 75.23Z" fill="#ffa510"/>
<path d="M363.3 57L366.4 62.43L360.2 62.43Z" fill="#ffa510"/>
<path d="M366.1 70.8L369.2 76.23L363 76.23Z" fill="#ffa510"/>
<path d="M368.9 55.2L372 60.62L365.8 60.62Z" fill="#ffa510"/>
<path d="M372.5 58.9L375.6 64.33L369.4 64.33Z" fill="#ffa510"/>
<path d="M376.2 58.8L379.3 64.22L373.1 64.22Z" fill="#ffa510"/>
<path d="M380 62.9L383.1 68.33L376.9 68.33Z" fill="#ffa510"/>
<path d="M383 61.9L386.1 67.33L379.9 67.33Z" fill="#ffa510"/>
<path d="M385.4 64.3L388.5 69.73L382.3 69.73Z" fill="#ffa510"/>
<path d="M389 65.2L392.1 70.62L385.9 70.62Z" fill="#ffa510"/>
<path d="M392.7 67.1L395.8 72.53L389.6 72.53Z" fill="#ffa510"/>
<path d="M312 10 L316 41.5 L319.7 49.8 L322.4 57.3 L325.2 62.8 L327.9 70.2 L331.6 76.6 L335.3 78.4 L338.9 83 L342.6 73.9 L346.3 72.9 L350 72 L353.6 68.3 L357.3 66.5 L360 63.8 L363.3 61 L366.1 68.3 L368.9 67.4 L372.2 25.9 L375.3 55 L378.9 50.7 L381.7 66.5 L385.7 44.3 L389 60.1 L392.7 58" fill="none" stroke="#e8141c" stroke-width="1.2" stroke-linejoin="round"/>
<path d="M308.9 10L314.32 6.9L314.32 13.1Z" fill="#e8141c"/>
<path d="M312.9 41.5L318.32 38.4L318.32 44.6Z" fill="#e8141c"/>
<path d="M316.6 49.8L322.02 46.7L322.02 52.9Z" fill="#e8141c"/>
<path d="M319.3 57.3L324.72 54.2L324.72 60.4Z" fill="#e8141c"/>
<path d="M322.1 62.8L327.52 59.7L327.52 65.9Z" fill="#e8141c"/>
<path d="M324.8 70.2L330.22 67.1L330.22 73.3Z" fill="#e8141c"/>
<path d="M328.5 76.6L333.93 73.5L333.93 79.7Z" fill="#e8141c"/>
<path d="M332.2 78.4L337.62 75.3L337.62 81.5Z" fill="#e8141c"/>
<path d="M335.8 83L341.22 79.9L341.22 86.1Z" fill="#e8141c"/>
<path d="M339.5 73.9L344.93 70.8L344.93 77Z" fill="#e8141c"/>
<path d="M343.2 72.9L348.62 69.8L348.62 76Z" fill="#e8141c"/>
<path d="M346.9 72L352.32 68.9L352.32 75.1Z" fill="#e8141c"/>
<path d="M350.5 68.3L355.93 65.2L355.93 71.4Z" fill="#e8141c"/>
<path d="M354.2 66.5L359.62 63.4L359.62 69.6Z" fill="#e8141c"/>
<path d="M356.9 63.8L362.32 60.7L362.32 66.9Z" fill="#e8141c"/>
<path d="M360.2 61L365.62 57.9L365.62 64.1Z" fill="#e8141c"/>
<path d="M363 68.3L368.43 65.2L368.43 71.4Z" fill="#e8141c"/>
<path d="M365.8 67.4L371.22 64.3L371.22 70.5Z" fill="#e8141c"/>
<path d="M369.1 25.9L374.52 22.8L374.52 29Z" fill="#e8141c"/>
<path d="M372.2 55L377.62 51.9L377.62 58.1Z" fill="#e8141c"/>
<path d="M375.8 50.7L381.22 47.6L381.22 53.8Z" fill="#e8141c"/>
<path d="M378.6 66.5L384.02 63.4L384.02 69.6Z" fill="#e8141c"/>
<path d="M382.6 44.3L388.02 41.2L388.02 47.4Z" fill="#e8141c"/>
<path d="M385.9 60.1L391.32 57L391.32 63.2Z" fill="#e8141c"/>
<path d="M389.6 58L395.02 54.9L395.02 61.1Z" fill="#e8141c"/>
</g>
<path d="M308.6 19.3V102.2H396" fill="none" stroke="#1a1a1a" stroke-width="1"/>
<path d="M308.6 19.3h4.5M308.6 40.02h2.5M308.6 60.75h4.5M308.6 81.47h2.5M330.45 102.2v-2.5M352.3 102.2v-4.5M374.15 102.2v-2.5M396 102.2v-4.5" fill="none" stroke="#1a1a1a" stroke-width="1"/>
<text x="305.2" y="23.8" text-anchor="end" class="t">30</text>
<text x="305.2" y="65.25" text-anchor="end" class="t">15</text>
<text x="305.2" y="106.7" text-anchor="end" class="t">0</text>
<text x="308.8" y="115.7" text-anchor="middle" class="t">0</text>
<text x="352.5" y="115.7" text-anchor="middle" class="t">0.5</text>
<text x="396.2" y="115.7" text-anchor="middle" class="t">1</text>
<text x="352.3" y="126.8" text-anchor="middle" class="ax">a</text>
<text x="352.3" y="9.8" text-anchor="middle" class="ti">Metabolic</text>
<clipPath id="c03"><rect x="435.6" y="19.3" width="97.4" height="86.9"/></clipPath>
<g clip-path="url(#c03)">
<path d="M446.5 5 L447.3 30.5 L449.6 55 L452.3 66.5 L455.2 72 L458 75 L461.7 78 L465.4 80.8 L469 82.8 L472.7 84.5 L476.4 85.6 L480 86.8 L483.7 87.5 L487.4 88 L490.7 88 L494.3 87.8 L498 87 L501.7 85.8 L505.4 84.9 L509 84.5 L512.7 84.5 L516.4 84.9 L520 84.9 L523.7 84.5" fill="none" stroke="#0b4ea6" stroke-width="1.2" stroke-linejoin="round"/>
<circle cx="446.5" cy="5" r="2.7" fill="#0b4ea6"/>
<circle cx="447.3" cy="30.5" r="2.7" fill="#0b4ea6"/>
<circle cx="449.6" cy="55" r="2.7" fill="#0b4ea6"/>
<circle cx="452.3" cy="66.5" r="2.7" fill="#0b4ea6"/>
<circle cx="455.2" cy="72" r="2.7" fill="#0b4ea6"/>
<circle cx="458" cy="75" r="2.7" fill="#0b4ea6"/>
<circle cx="461.7" cy="78" r="2.7" fill="#0b4ea6"/>
<circle cx="465.4" cy="80.8" r="2.7" fill="#0b4ea6"/>
<circle cx="469" cy="82.8" r="2.7" fill="#0b4ea6"/>
<circle cx="472.7" cy="84.5" r="2.7" fill="#0b4ea6"/>
<circle cx="476.4" cy="85.6" r="2.7" fill="#0b4ea6"/>
<circle cx="480" cy="86.8" r="2.7" fill="#0b4ea6"/>
<circle cx="483.7" cy="87.5" r="2.7" fill="#0b4ea6"/>
<circle cx="487.4" cy="88" r="2.7" fill="#0b4ea6"/>
<circle cx="490.7" cy="88" r="2.7" fill="#0b4ea6"/>
<circle cx="494.3" cy="87.8" r="2.7" fill="#0b4ea6"/>
<circle cx="498" cy="87" r="2.7" fill="#0b4ea6"/>
<circle cx="501.7" cy="85.8" r="2.7" fill="#0b4ea6"/>
<circle cx="505.4" cy="84.9" r="2.7" fill="#0b4ea6"/>
<circle cx="509" cy="84.5" r="2.7" fill="#0b4ea6"/>
<circle cx="512.7" cy="84.5" r="2.7" fill="#0b4ea6"/>
<circle cx="516.4" cy="84.9" r="2.7" fill="#0b4ea6"/>
<circle cx="520" cy="84.9" r="2.7" fill="#0b4ea6"/>
<circle cx="523.7" cy="84.5" r="2.7" fill="#0b4ea6"/>
<path d="M446.5 5 L447 34.8 L449.2 57.1 L452.5 67.4 L455.3 72.9 L458 75.7 L461.7 78.4 L465.4 81.2 L469 83 L472.7 84.9 L476.4 85.8 L480 86.3 L483.7 86.7 L487.4 87.2 L490.7 87.3 L494.3 87 L498 86.3 L501.7 85 L505.4 83.5 L509 81.2 L512.7 79.4 L516.4 78.4 L520 77.5 L522.8 78.4" fill="none" stroke="#0a8c12" stroke-width="1.2" stroke-linejoin="round"/>
<rect x="444.3" y="2.8" width="4.4" height="4.4" fill="#0a8c12"/>
<rect x="444.8" y="32.6" width="4.4" height="4.4" fill="#0a8c12"/>
<rect x="447" y="54.9" width="4.4" height="4.4" fill="#0a8c12"/>
<rect x="450.3" y="65.2" width="4.4" height="4.4" fill="#0a8c12"/>
<rect x="453.1" y="70.7" width="4.4" height="4.4" fill="#0a8c12"/>
<rect x="455.8" y="73.5" width="4.4" height="4.4" fill="#0a8c12"/>
<rect x="459.5" y="76.2" width="4.4" height="4.4" fill="#0a8c12"/>
<rect x="463.2" y="79" width="4.4" height="4.4" fill="#0a8c12"/>
<rect x="466.8" y="80.8" width="4.4" height="4.4" fill="#0a8c12"/>
<rect x="470.5" y="82.7" width="4.4" height="4.4" fill="#0a8c12"/>
<rect x="474.2" y="83.6" width="4.4" height="4.4" fill="#0a8c12"/>
<rect x="477.8" y="84.1" width="4.4" height="4.4" fill="#0a8c12"/>
<rect x="481.5" y="84.5" width="4.4" height="4.4" fill="#0a8c12"/>
<rect x="485.2" y="85" width="4.4" height="4.4" fill="#0a8c12"/>
<rect x="488.5" y="85.1" width="4.4" height="4.4" fill="#0a8c12"/>
<rect x="492.1" y="84.8" width="4.4" height="4.4" fill="#0a8c12"/>
<rect x="495.8" y="84.1" width="4.4" height="4.4" fill="#0a8c12"/>
<rect x="499.5" y="82.8" width="4.4" height="4.4" fill="#0a8c12"/>
<rect x="503.2" y="81.3" width="4.4" height="4.4" fill="#0a8c12"/>
<rect x="506.8" y="79" width="4.4" height="4.4" fill="#0a8c12"/>
<rect x="510.5" y="77.2" width="4.4" height="4.4" fill="#0a8c12"/>
<rect x="514.2" y="76.2" width="4.4" height="4.4" fill="#0a8c12"/>
<rect x="517.8" y="75.3" width="4.4" height="4.4" fill="#0a8c12"/>
<rect x="520.6" y="76.2" width="4.4" height="4.4" fill="#0a8c12"/>
<path d="M446.5 5 L447.2 31.5 L449.5 56 L452 62 L453.5 67 L456.2 71.5 L458.9 73.5 L461.7 76 L464.4 78 L467.2 79.5 L469.9 81 L472.7 82.5 L475.4 83.5 L478.2 84.3 L481 85 L483.7 85.3 L487.4 85.8 L490.7 86 L494.3 85.8 L498 85.2 L501.7 83.5 L505.4 81 L508 78 L510.9 75.7 L514.5 72.9 L518.2 72.9 L521.9 73.9" fill="none" stroke="#8fd03a" stroke-width="1.2" stroke-linejoin="round"/>
<path d="M446.5 2L449.5 5L446.5 8L443.5 5Z" fill="#8fd03a"/>
<path d="M447.2 28.5L450.2 31.5L447.2 34.5L444.2 31.5Z" fill="#8fd03a"/>
<path d="M449.5 53L452.5 56L449.5 59L446.5 56Z" fill="#8fd03a"/>
<path d="M452 59L455 62L452 65L449 62Z" fill="#8fd03a"/>
<path d="M453.5 64L456.5 67L453.5 70L450.5 67Z" fill="#8fd03a"/>
<path d="M456.2 68.5L459.2 71.5L456.2 74.5L453.2 71.5Z" fill="#8fd03a"/>
<path d="M458.9 70.5L461.9 73.5L458.9 76.5L455.9 73.5Z" fill="#8fd03a"/>
<path d="M461.7 73L464.7 76L461.7 79L458.7 76Z" fill="#8fd03a"/>
<path d="M464.4 75L467.4 78L464.4 81L461.4 78Z" fill="#8fd03a"/>
<path d="M467.2 76.5L470.2 79.5L467.2 82.5L464.2 79.5Z" fill="#8fd03a"/>
<path d="M469.9 78L472.9 81L469.9 84L466.9 81Z" fill="#8fd03a"/>
<path d="M472.7 79.5L475.7 82.5L472.7 85.5L469.7 82.5Z" fill="#8fd03a"/>
<path d="M475.4 80.5L478.4 83.5L475.4 86.5L472.4 83.5Z" fill="#8fd03a"/>
<path d="M478.2 81.3L481.2 84.3L478.2 87.3L475.2 84.3Z" fill="#8fd03a"/>
<path d="M481 82L484 85L481 88L478 85Z" fill="#8fd03a"/>
<path d="M483.7 82.3L486.7 85.3L483.7 88.3L480.7 85.3Z" fill="#8fd03a"/>
<path d="M487.4 82.8L490.4 85.8L487.4 88.8L484.4 85.8Z" fill="#8fd03a"/>
<path d="M490.7 83L493.7 86L490.7 89L487.7 86Z" fill="#8fd03a"/>
<path d="M494.3 82.8L497.3 85.8L494.3 88.8L491.3 85.8Z" fill="#8fd03a"/>
<path d="M498 82.2L501 85.2L498 88.2L495 85.2Z" fill="#8fd03a"/>
<path d="M501.7 80.5L504.7 83.5L501.7 86.5L498.7 83.5Z" fill="#8fd03a"/>
<path d="M505.4 78L508.4 81L505.4 84L502.4 81Z" fill="#8fd03a"/>
<path d="M508 75L511 78L508 81L505 78Z" fill="#8fd03a"/>
<path d="M510.9 72.7L513.9 75.7L510.9 78.7L507.9 75.7Z" fill="#8fd03a"/>
<path d="M514.5 69.9L517.5 72.9L514.5 75.9L511.5 72.9Z" fill="#8fd03a"/>
<path d="M518.2 69.9L521.2 72.9L518.2 75.9L515.2 72.9Z" fill="#8fd03a"/>
<path d="M521.9 70.9L524.9 73.9L521.9 76.9L518.9 73.9Z" fill="#8fd03a"/>
<path d="M446.5 5 L447.3 29.5 L449.5 54 L451.6 58 L453.4 65.5 L456.2 70 L458.9 72 L461.7 74 L464.4 75.5 L467.2 77 L469.9 79 L472.7 80.5 L475.4 81.5 L478.2 82 L481 82.5 L483.7 83.3 L487.4 84 L490.7 84 L494.3 84 L498 83.5 L501.7 82 L505.4 79.5 L507.2 73.9 L510.9 70.2 L514.5 67.4 L518.2 65.6 L521 64.7 L523.7 69.3" fill="none" stroke="#ffa510" stroke-width="1.2" stroke-linejoin="round"/>
<path d="M446.5 1.9L449.6 7.33L443.4 7.33Z" fill="#ffa510"/>
<path d="M447.3 26.4L450.4 31.82L444.2 31.82Z" fill="#ffa510"/>
<path d="M449.5 50.9L452.6 56.33L446.4 56.33Z" fill="#ffa510"/>
<path d="M451.6 54.9L454.7 60.33L448.5 60.33Z" fill="#ffa510"/>
<path d="M453.4 62.4L456.5 67.83L450.3 67.83Z" fill="#ffa510"/>
<path d="M456.2 66.9L459.3 72.33L453.1 72.33Z" fill="#ffa510"/>
<path d="M458.9 68.9L462 74.33L455.8 74.33Z" fill="#ffa510"/>
<path d="M461.7 70.9L464.8 76.33L458.6 76.33Z" fill="#ffa510"/>
<path d="M464.4 72.4L467.5 77.83L461.3 77.83Z" fill="#ffa510"/>
<path d="M467.2 73.9L470.3 79.33L464.1 79.33Z" fill="#ffa510"/>
<path d="M469.9 75.9L473 81.33L466.8 81.33Z" fill="#ffa510"/>
<path d="M472.7 77.4L475.8 82.83L469.6 82.83Z" fill="#ffa510"/>
<path d="M475.4 78.4L478.5 83.83L472.3 83.83Z" fill="#ffa510"/>
<path d="M478.2 78.9L481.3 84.33L475.1 84.33Z" fill="#ffa510"/>
<path d="M481 79.4L484.1 84.83L477.9 84.83Z" fill="#ffa510"/>
<path d="M483.7 80.2L486.8 85.62L480.6 85.62Z" fill="#ffa510"/>
<path d="M487.4 80.9L490.5 86.33L484.3 86.33Z" fill="#ffa510"/>
<path d="M490.7 80.9L493.8 86.33L487.6 86.33Z" fill="#ffa510"/>
<path d="M494.3 80.9L497.4 86.33L491.2 86.33Z" fill="#ffa510"/>
<path d="M498 80.4L501.1 85.83L494.9 85.83Z" fill="#ffa510"/>
<path d="M501.7 78.9L504.8 84.33L498.6 84.33Z" fill="#ffa510"/>
<path d="M505.4 76.4L508.5 81.83L502.3 81.83Z" fill="#ffa510"/>
<path d="M507.2 70.8L510.3 76.23L504.1 76.23Z" fill="#ffa510"/>
<path d="M510.9 67.1L514 72.53L507.8 72.53Z" fill="#ffa510"/>
<path d="M514.5 64.3L517.6 69.73L511.4 69.73Z" fill="#ffa510"/>
<path d="M518.2 62.5L521.3 67.92L515.1 67.92Z" fill="#ffa510"/>
<path d="M521 61.6L524.1 67.03L517.9 67.03Z" fill="#ffa510"/>
<path d="M523.7 66.2L526.8 71.62L520.6 71.62Z" fill="#ffa510"/>
<path d="M446.5 5 L447.3 28.5 L449.8 52.8 L451.6 56.4 L453.4 63.8 L456.2 68.3 L458.9 70.2 L461.7 72 L464.4 73.9 L467.2 75.7 L469.9 77.5 L472.7 79.4 L475.4 80.3 L478.2 80.3 L481 80.3 L483.7 82.1 L487.4 83 L490.7 82.1 L494.3 82.1 L498 81.2 L501.7 79.4 L505.4 77.5 L508.1 73.9 L510 69.3 L512.7 62.8 L515.4 55.5 L517.3 53.7 L520 58.3 L521.9 64.7 L524.6 66.5" fill="none" stroke="#e8141c" stroke-width="1.2" stroke-linejoin="round"/>
<path d="M443.4 5L448.82 1.9L448.82 8.1Z" fill="#e8141c"/>
<path d="M444.2 28.5L449.62 25.4L449.62 31.6Z" fill="#e8141c"/>
<path d="M446.7 52.8L452.12 49.7L452.12 55.9Z" fill="#e8141c"/>
<path d="M448.5 56.4L453.93 53.3L453.93 59.5Z" fill="#e8141c"/>
<path d="M450.3 63.8L455.72 60.7L455.72 66.9Z" fill="#e8141c"/>
<path d="M453.1 68.3L458.52 65.2L458.52 71.4Z" fill="#e8141c"/>
<path d="M455.8 70.2L461.22 67.1L461.22 73.3Z" fill="#e8141c"/>
<path d="M458.6 72L464.02 68.9L464.02 75.1Z" fill="#e8141c"/>
<path d="M461.3 73.9L466.72 70.8L466.72 77Z" fill="#e8141c"/>
<path d="M464.1 75.7L469.52 72.6L469.52 78.8Z" fill="#e8141c"/>
<path d="M466.8 77.5L472.22 74.4L472.22 80.6Z" fill="#e8141c"/>
<path d="M469.6 79.4L475.02 76.3L475.02 82.5Z" fill="#e8141c"/>
<path d="M472.3 80.3L477.72 77.2L477.72 83.4Z" fill="#e8141c"/>
<path d="M475.1 80.3L480.52 77.2L480.52 83.4Z" fill="#e8141c"/>
<path d="M477.9 80.3L483.32 77.2L483.32 83.4Z" fill="#e8141c"/>
<path d="M480.6 82.1L486.02 79L486.02 85.2Z" fill="#e8141c"/>
<path d="M484.3 83L489.72 79.9L489.72 86.1Z" fill="#e8141c"/>
<path d="M487.6 82.1L493.02 79L493.02 85.2Z" fill="#e8141c"/>
<path d="M491.2 82.1L496.62 79L496.62 85.2Z" fill="#e8141c"/>
<path d="M494.9 81.2L500.32 78.1L500.32 84.3Z" fill="#e8141c"/>
<path d="M498.6 79.4L504.02 76.3L504.02 82.5Z" fill="#e8141c"/>
<path d="M502.3 77.5L507.72 74.4L507.72 80.6Z" fill="#e8141c"/>
<path d="M505 73.9L510.43 70.8L510.43 77Z" fill="#e8141c"/>
<path d="M506.9 69.3L512.33 66.2L512.33 72.4Z" fill="#e8141c"/>
<path d="M509.6 62.8L515.03 59.7L515.03 65.9Z" fill="#e8141c"/>
<path d="M512.3 55.5L517.73 52.4L517.73 58.6Z" fill="#e8141c"/>
<path d="M514.2 53.7L519.62 50.6L519.62 56.8Z" fill="#e8141c"/>
<path d="M516.9 58.3L522.33 55.2L522.33 61.4Z" fill="#e8141c"/>
<path d="M518.8 64.7L524.23 61.6L524.23 67.8Z" fill="#e8141c"/>
<path d="M521.5 66.5L526.93 63.4L526.93 69.6Z" fill="#e8141c"/>
</g>
<path d="M439.6 19.3V102.2H527" fill="none" stroke="#1a1a1a" stroke-width="1"/>
<path d="M439.6 19.3h4.5M439.6 40.02h2.5M439.6 60.75h4.5M439.6 81.47h2.5M461.45 102.2v-2.5M483.3 102.2v-4.5M505.15 102.2v-2.5M527 102.2v-4.5" fill="none" stroke="#1a1a1a" stroke-width="1"/>
<text x="436.2" y="23.8" text-anchor="end" class="t">8</text>
<text x="436.2" y="65.25" text-anchor="end" class="t">4</text>
<text x="436.2" y="106.7" text-anchor="end" class="t">0</text>
<text x="439.8" y="115.7" text-anchor="middle" class="t">0</text>
<text x="483.5" y="115.7" text-anchor="middle" class="t">0.5</text>
<text x="527.2" y="115.7" text-anchor="middle" class="t">1</text>
<text x="483.3" y="126.8" text-anchor="middle" class="ax">a</text>
<text x="483.3" y="9.8" text-anchor="middle" class="ti">Internet</text>
<clipPath id="c04"><rect x="566.6" y="19.3" width="97.4" height="86.9"/></clipPath>
<g clip-path="url(#c04)">
<path d="M574.3 38.8 L577.1 57.3 L580.5 66 L584 71 L587.5 74 L591 76.5 L594.5 78.5 L598 80 L601.5 81.2 L605 82.2 L608.5 83 L612 83.8 L615.5 84.5 L619 85 L622.5 85.5 L626 86 L629.5 86.3 L633 86.5 L636.5 86.3 L640 85 L645 82.8 L650.3 86.4 L654.8 85.5" fill="none" stroke="#0b4ea6" stroke-width="1.2" stroke-linejoin="round"/>
<circle cx="574.3" cy="38.8" r="2.7" fill="#0b4ea6"/>
<circle cx="577.1" cy="57.3" r="2.7" fill="#0b4ea6"/>
<circle cx="580.5" cy="66" r="2.7" fill="#0b4ea6"/>
<circle cx="584" cy="71" r="2.7" fill="#0b4ea6"/>
<circle cx="587.5" cy="74" r="2.7" fill="#0b4ea6"/>
<circle cx="591" cy="76.5" r="2.7" fill="#0b4ea6"/>
<circle cx="594.5" cy="78.5" r="2.7" fill="#0b4ea6"/>
<circle cx="598" cy="80" r="2.7" fill="#0b4ea6"/>
<circle cx="601.5" cy="81.2" r="2.7" fill="#0b4ea6"/>
<circle cx="605" cy="82.2" r="2.7" fill="#0b4ea6"/>
<circle cx="608.5" cy="83" r="2.7" fill="#0b4ea6"/>
<circle cx="612" cy="83.8" r="2.7" fill="#0b4ea6"/>
<circle cx="615.5" cy="84.5" r="2.7" fill="#0b4ea6"/>
<circle cx="619" cy="85" r="2.7" fill="#0b4ea6"/>
<circle cx="622.5" cy="85.5" r="2.7" fill="#0b4ea6"/>
<circle cx="626" cy="86" r="2.7" fill="#0b4ea6"/>
<circle cx="629.5" cy="86.3" r="2.7" fill="#0b4ea6"/>
<circle cx="633" cy="86.5" r="2.7" fill="#0b4ea6"/>
<circle cx="636.5" cy="86.3" r="2.7" fill="#0b4ea6"/>
<circle cx="640" cy="85" r="2.7" fill="#0b4ea6"/>
<circle cx="645" cy="82.8" r="2.7" fill="#0b4ea6"/>
<circle cx="650.3" cy="86.4" r="2.7" fill="#0b4ea6"/>
<circle cx="654.8" cy="85.5" r="2.7" fill="#0b4ea6"/>
<path d="M574 48 L578 53.7 L580.8 72 L583.5 75.7 L587.2 77.5 L590.9 79.4 L594.5 81.2 L598.2 82.7 L601.9 83.9 L605.5 84.9 L609.2 85.8 L612.9 86.7 L616.5 87.6 L620.2 88.5 L624 88.5 L628 88.5 L632 88 L636 87.5 L640 86 L644 82 L648 80 L651.2 72 L653.9 84.6" fill="none" stroke="#0a8c12" stroke-width="1.2" stroke-linejoin="round"/>
<rect x="571.8" y="45.8" width="4.4" height="4.4" fill="#0a8c12"/>
<rect x="575.8" y="51.5" width="4.4" height="4.4" fill="#0a8c12"/>
<rect x="578.6" y="69.8" width="4.4" height="4.4" fill="#0a8c12"/>
<rect x="581.3" y="73.5" width="4.4" height="4.4" fill="#0a8c12"/>
<rect x="585" y="75.3" width="4.4" height="4.4" fill="#0a8c12"/>
<rect x="588.7" y="77.2" width="4.4" height="4.4" fill="#0a8c12"/>
<rect x="592.3" y="79" width="4.4" height="4.4" fill="#0a8c12"/>
<rect x="596" y="80.5" width="4.4" height="4.4" fill="#0a8c12"/>
<rect x="599.7" y="81.7" width="4.4" height="4.4" fill="#0a8c12"/>
<rect x="603.3" y="82.7" width="4.4" height="4.4" fill="#0a8c12"/>
<rect x="607" y="83.6" width="4.4" height="4.4" fill="#0a8c12"/>
<rect x="610.7" y="84.5" width="4.4" height="4.4" fill="#0a8c12"/>
<rect x="614.3" y="85.4" width="4.4" height="4.4" fill="#0a8c12"/>
<rect x="618" y="86.3" width="4.4" height="4.4" fill="#0a8c12"/>
<rect x="621.8" y="86.3" width="4.4" height="4.4" fill="#0a8c12"/>
<rect x="625.8" y="86.3" width="4.4" height="4.4" fill="#0a8c12"/>
<rect x="629.8" y="85.8" width="4.4" height="4.4" fill="#0a8c12"/>
<rect x="633.8" y="85.3" width="4.4" height="4.4" fill="#0a8c12"/>
<rect x="637.8" y="83.8" width="4.4" height="4.4" fill="#0a8c12"/>
<rect x="641.8" y="79.8" width="4.4" height="4.4" fill="#0a8c12"/>
<rect x="645.8" y="77.8" width="4.4" height="4.4" fill="#0a8c12"/>
<rect x="649" y="69.8" width="4.4" height="4.4" fill="#0a8c12"/>
<rect x="651.7" y="82.4" width="4.4" height="4.4" fill="#0a8c12"/>
<path d="M574 48.9 L577 54 L580.5 68 L584 72.5 L587.5 75.5 L591 77.5 L594.5 79.5 L598 81 L601.5 82.3 L605 83.3 L608.5 84.2 L612 85 L615.5 85.8 L619 86.5 L622.5 87 L626 87.5 L629.5 87.7 L633 87.5 L636.5 87 L640 85.5 L644 80 L647 80 L650.3 85.5 L654.3 62" fill="none" stroke="#8fd03a" stroke-width="1.2" stroke-linejoin="round"/>
<path d="M574 45.9L577 48.9L574 51.9L571 48.9Z" fill="#8fd03a"/>
<path d="M577 51L580 54L577 57L574 54Z" fill="#8fd03a"/>
<path d="M580.5 65L583.5 68L580.5 71L577.5 68Z" fill="#8fd03a"/>
<path d="M584 69.5L587 72.5L584 75.5L581 72.5Z" fill="#8fd03a"/>
<path d="M587.5 72.5L590.5 75.5L587.5 78.5L584.5 75.5Z" fill="#8fd03a"/>
<path d="M591 74.5L594 77.5L591 80.5L588 77.5Z" fill="#8fd03a"/>
<path d="M594.5 76.5L597.5 79.5L594.5 82.5L591.5 79.5Z" fill="#8fd03a"/>
<path d="M598 78L601 81L598 84L595 81Z" fill="#8fd03a"/>
<path d="M601.5 79.3L604.5 82.3L601.5 85.3L598.5 82.3Z" fill="#8fd03a"/>
<path d="M605 80.3L608 83.3L605 86.3L602 83.3Z" fill="#8fd03a"/>
<path d="M608.5 81.2L611.5 84.2L608.5 87.2L605.5 84.2Z" fill="#8fd03a"/>
<path d="M612 82L615 85L612 88L609 85Z" fill="#8fd03a"/>
<path d="M615.5 82.8L618.5 85.8L615.5 88.8L612.5 85.8Z" fill="#8fd03a"/>
<path d="M619 83.5L622 86.5L619 89.5L616 86.5Z" fill="#8fd03a"/>
<path d="M622.5 84L625.5 87L622.5 90L619.5 87Z" fill="#8fd03a"/>
<path d="M626 84.5L629 87.5L626 90.5L623 87.5Z" fill="#8fd03a"/>
<path d="M629.5 84.7L632.5 87.7L629.5 90.7L626.5 87.7Z" fill="#8fd03a"/>
<path d="M633 84.5L636 87.5L633 90.5L630 87.5Z" fill="#8fd03a"/>
<path d="M636.5 84L639.5 87L636.5 90L633.5 87Z" fill="#8fd03a"/>
<path d="M640 82.5L643 85.5L640 88.5L637 85.5Z" fill="#8fd03a"/>
<path d="M644 77L647 80L644 83L641 80Z" fill="#8fd03a"/>
<path d="M647 77L650 80L647 83L644 80Z" fill="#8fd03a"/>
<path d="M650.3 82.5L653.3 85.5L650.3 88.5L647.3 85.5Z" fill="#8fd03a"/>
<path d="M654.3 59L657.3 62L654.3 65L651.3 62Z" fill="#8fd03a"/>
<path d="M574.3 33.3 L578 47.9 L581.7 57.3 L584.4 65.6 L587.2 68.3 L590.9 71.1 L594.5 73.9 L598.2 76.6 L601.9 78.4 L605.5 79.4 L609.2 80.3 L612.9 81.2 L616.5 82.1 L620.2 83 L624 83.5 L628 84 L632 84 L636 83 L640 80 L643 76 L645.9 73 L648.5 65.8 L652 -8" fill="none" stroke="#ffa510" stroke-width="1.2" stroke-linejoin="round"/>
<path d="M574.3 30.2L577.4 35.62L571.2 35.62Z" fill="#ffa510"/>
<path d="M578 44.8L581.1 50.23L574.9 50.23Z" fill="#ffa510"/>
<path d="M581.7 54.2L584.8 59.62L578.6 59.62Z" fill="#ffa510"/>
<path d="M584.4 62.5L587.5 67.92L581.3 67.92Z" fill="#ffa510"/>
<path d="M587.2 65.2L590.3 70.62L584.1 70.62Z" fill="#ffa510"/>
<path d="M590.9 68L594 73.42L587.8 73.42Z" fill="#ffa510"/>
<path d="M594.5 70.8L597.6 76.23L591.4 76.23Z" fill="#ffa510"/>
<path d="M598.2 73.5L601.3 78.92L595.1 78.92Z" fill="#ffa510"/>
<path d="M601.9 75.3L605 80.73L598.8 80.73Z" fill="#ffa510"/>
<path d="M605.5 76.3L608.6 81.73L602.4 81.73Z" fill="#ffa510"/>
<path d="M609.2 77.2L612.3 82.62L606.1 82.62Z" fill="#ffa510"/>
<path d="M612.9 78.1L616 83.53L609.8 83.53Z" fill="#ffa510"/>
<path d="M616.5 79L619.6 84.42L613.4 84.42Z" fill="#ffa510"/>
<path d="M620.2 79.9L623.3 85.33L617.1 85.33Z" fill="#ffa510"/>
<path d="M624 80.4L627.1 85.83L620.9 85.83Z" fill="#ffa510"/>
<path d="M628 80.9L631.1 86.33L624.9 86.33Z" fill="#ffa510"/>
<path d="M632 80.9L635.1 86.33L628.9 86.33Z" fill="#ffa510"/>
<path d="M636 79.9L639.1 85.33L632.9 85.33Z" fill="#ffa510"/>
<path d="M640 76.9L643.1 82.33L636.9 82.33Z" fill="#ffa510"/>
<path d="M643 72.9L646.1 78.33L639.9 78.33Z" fill="#ffa510"/>
<path d="M645.9 69.9L649 75.33L642.8 75.33Z" fill="#ffa510"/>
<path d="M648.5 62.7L651.6 68.12L645.4 68.12Z" fill="#ffa510"/>
<path d="M652 -11.1L655.1 -5.67L648.9 -5.67Z" fill="#ffa510"/>
<path d="M575.3 41.5 L578 63.8 L580.8 70.2 L584.4 73.9 L588.1 76.6 L591.8 78.4 L595.4 80.3 L599.1 82.1 L602.8 83 L606.4 83.9 L610.1 84.9 L613.8 85.8 L618.4 86.7 L622 86.5 L626 86 L630 85.5 L634 85 L638 82 L641 77 L644.3 71.8 L646.8 77.4 L649.9 42.4 L659 -5" fill="none" stroke="#e8141c" stroke-width="1.2" stroke-linejoin="round"/>
<path d="M572.2 41.5L577.62 38.4L577.62 44.6Z" fill="#e8141c"/>
<path d="M574.9 63.8L580.33 60.7L580.33 66.9Z" fill="#e8141c"/>
<path d="M577.7 70.2L583.12 67.1L583.12 73.3Z" fill="#e8141c"/>
<path d="M581.3 73.9L586.73 70.8L586.73 77Z" fill="#e8141c"/>
<path d="M585 76.6L590.43 73.5L590.43 79.7Z" fill="#e8141c"/>
<path d="M588.7 78.4L594.12 75.3L594.12 81.5Z" fill="#e8141c"/>
<path d="M592.3 80.3L597.73 77.2L597.73 83.4Z" fill="#e8141c"/>
<path d="M596 82.1L601.43 79L601.43 85.2Z" fill="#e8141c"/>
<path d="M599.7 83L605.12 79.9L605.12 86.1Z" fill="#e8141c"/>
<path d="M603.3 83.9L608.73 80.8L608.73 87Z" fill="#e8141c"/>
<path d="M607 84.9L612.43 81.8L612.43 88Z" fill="#e8141c"/>
<path d="M610.7 85.8L616.12 82.7L616.12 88.9Z" fill="#e8141c"/>
<path d="M615.3 86.7L620.73 83.6L620.73 89.8Z" fill="#e8141c"/>
<path d="M618.9 86.5L624.33 83.4L624.33 89.6Z" fill="#e8141c"/>
<path d="M622.9 86L628.33 82.9L628.33 89.1Z" fill="#e8141c"/>
<path d="M626.9 85.5L632.33 82.4L632.33 88.6Z" fill="#e8141c"/>
<path d="M630.9 85L636.33 81.9L636.33 88.1Z" fill="#e8141c"/>
<path d="M634.9 82L640.33 78.9L640.33 85.1Z" fill="#e8141c"/>
<path d="M637.9 77L643.33 73.9L643.33 80.1Z" fill="#e8141c"/>
<path d="M641.2 71.8L646.62 68.7L646.62 74.9Z" fill="#e8141c"/>
<path d="M643.7 77.4L649.12 74.3L649.12 80.5Z" fill="#e8141c"/>
<path d="M646.8 42.4L652.23 39.3L652.23 45.5Z" fill="#e8141c"/>
<path d="M655.9 -5L661.33 -8.1L661.33 -1.9Z" fill="#e8141c"/>
</g>
<path d="M570.6 19.3V102.2H658" fill="none" stroke="#1a1a1a" stroke-width="1"/>
<path d="M570.6 19.3h4.5M570.6 40.02h2.5M570.6 60.75h4.5M570.6 81.47h2.5M592.45 102.2v-2.5M614.3 102.2v-4.5M636.15 102.2v-2.5M658 102.2v-4.5" fill="none" stroke="#1a1a1a" stroke-width="1"/>
<text x="567.2" y="23.8" text-anchor="end" class="t">6</text>
<text x="567.2" y="65.25" text-anchor="end" class="t">3</text>
<text x="567.2" y="106.7" text-anchor="end" class="t">0</text>
<text x="570.8" y="115.7" text-anchor="middle" class="t">0</text>
<text x="614.5" y="115.7" text-anchor="middle" class="t">0.5</text>
<text x="658.2" y="115.7" text-anchor="middle" class="t">1</text>
<text x="614.3" y="126.8" text-anchor="middle" class="ax">a</text>
<text x="614.3" y="9.8" text-anchor="middle" class="ti">WTW</text>
<clipPath id="c10"><rect x="42.6" y="144.5" width="97.4" height="86.8"/></clipPath>
<g clip-path="url(#c10)">
<path d="M50.4 202.9 L54.1 195.6 L56.8 187 L60.5 175.8 L64.2 169.4 L66.9 163.9 L70.6 162 L74.3 155.6 L77.9 156.5 L80.7 153.8 L84.4 150.1 L87.4 155.6 L90.6 153.3 L93.8 155.6 L97 149.2 L100.5 156.5 L104.2 157.4 L107.9 159.3 L110.6 167.5 L113.4 172.1 L117 169.4 L120.7 182.5 L124 164.8 L127.1 173 L130.8 174.9" fill="none" stroke="#0b4ea6" stroke-width="1.2" stroke-linejoin="round"/>
<circle cx="50.4" cy="202.9" r="2.7" fill="#0b4ea6"/>
<circle cx="54.1" cy="195.6" r="2.7" fill="#0b4ea6"/>
<circle cx="56.8" cy="187" r="2.7" fill="#0b4ea6"/>
<circle cx="60.5" cy="175.8" r="2.7" fill="#0b4ea6"/>
<circle cx="64.2" cy="169.4" r="2.7" fill="#0b4ea6"/>
<circle cx="66.9" cy="163.9" r="2.7" fill="#0b4ea6"/>
<circle cx="70.6" cy="162" r="2.7" fill="#0b4ea6"/>
<circle cx="74.3" cy="155.6" r="2.7" fill="#0b4ea6"/>
<circle cx="77.9" cy="156.5" r="2.7" fill="#0b4ea6"/>
<circle cx="80.7" cy="153.8" r="2.7" fill="#0b4ea6"/>
<circle cx="84.4" cy="150.1" r="2.7" fill="#0b4ea6"/>
<circle cx="87.4" cy="155.6" r="2.7" fill="#0b4ea6"/>
<circle cx="90.6" cy="153.3" r="2.7" fill="#0b4ea6"/>
<circle cx="93.8" cy="155.6" r="2.7" fill="#0b4ea6"/>
<circle cx="97" cy="149.2" r="2.7" fill="#0b4ea6"/>
<circle cx="100.5" cy="156.5" r="2.7" fill="#0b4ea6"/>
<circle cx="104.2" cy="157.4" r="2.7" fill="#0b4ea6"/>
<circle cx="107.9" cy="159.3" r="2.7" fill="#0b4ea6"/>
<circle cx="110.6" cy="167.5" r="2.7" fill="#0b4ea6"/>
<circle cx="113.4" cy="172.1" r="2.7" fill="#0b4ea6"/>
<circle cx="117" cy="169.4" r="2.7" fill="#0b4ea6"/>
<circle cx="120.7" cy="182.5" r="2.7" fill="#0b4ea6"/>
<circle cx="124" cy="164.8" r="2.7" fill="#0b4ea6"/>
<circle cx="127.1" cy="173" r="2.7" fill="#0b4ea6"/>
<circle cx="130.8" cy="174.9" r="2.7" fill="#0b4ea6"/>
<path d="M50.4 205.7 L53.2 202 L56.8 198.3 L60.5 192.8 L64.2 187.3 L66.9 182.8 L70.6 181.8 L73.4 185.5 L77 186.4 L80.7 187.3 L84.4 188.3 L87.5 187.5 L90.5 188.5 L93.5 189.5 L96.8 188.3 L100.5 191.9 L104.2 192.8 L107.9 191.9 L111.5 198.3 L114.3 194.7 L117.9 200.2 L121.6 195.6 L124.4 203.9 L127.1 202.9 L130.8 209.4" fill="none" stroke="#0a8c12" stroke-width="1.2" stroke-linejoin="round"/>
<rect x="48.2" y="203.5" width="4.4" height="4.4" fill="#0a8c12"/>
<rect x="51" y="199.8" width="4.4" height="4.4" fill="#0a8c12"/>
<rect x="54.6" y="196.1" width="4.4" height="4.4" fill="#0a8c12"/>
<rect x="58.3" y="190.6" width="4.4" height="4.4" fill="#0a8c12"/>
<rect x="62" y="185.1" width="4.4" height="4.4" fill="#0a8c12"/>
<rect x="64.7" y="180.6" width="4.4" height="4.4" fill="#0a8c12"/>
<rect x="68.4" y="179.6" width="4.4" height="4.4" fill="#0a8c12"/>
<rect x="71.2" y="183.3" width="4.4" height="4.4" fill="#0a8c12"/>
<rect x="74.8" y="184.2" width="4.4" height="4.4" fill="#0a8c12"/>
<rect x="78.5" y="185.1" width="4.4" height="4.4" fill="#0a8c12"/>
<rect x="82.2" y="186.1" width="4.4" height="4.4" fill="#0a8c12"/>
<rect x="85.3" y="185.3" width="4.4" height="4.4" fill="#0a8c12"/>
<rect x="88.3" y="186.3" width="4.4" height="4.4" fill="#0a8c12"/>
<rect x="91.3" y="187.3" width="4.4" height="4.4" fill="#0a8c12"/>
<rect x="94.6" y="186.1" width="4.4" height="4.4" fill="#0a8c12"/>
<rect x="98.3" y="189.7" width="4.4" height="4.4" fill="#0a8c12"/>
<rect x="102" y="190.6" width="4.4" height="4.4" fill="#0a8c12"/>
<rect x="105.7" y="189.7" width="4.4" height="4.4" fill="#0a8c12"/>
<rect x="109.3" y="196.1" width="4.4" height="4.4" fill="#0a8c12"/>
<rect x="112.1" y="192.5" width="4.4" height="4.4" fill="#0a8c12"/>
<rect x="115.7" y="198" width="4.4" height="4.4" fill="#0a8c12"/>
<rect x="119.4" y="193.4" width="4.4" height="4.4" fill="#0a8c12"/>
<rect x="122.2" y="201.7" width="4.4" height="4.4" fill="#0a8c12"/>
<rect x="124.9" y="200.7" width="4.4" height="4.4" fill="#0a8c12"/>
<rect x="128.6" y="207.2" width="4.4" height="4.4" fill="#0a8c12"/>
<path d="M50.4 208.4 L54.1 203.9 L57.8 200.2 L61.4 196.5 L65.1 193.8 L67.9 191 L71.5 192.8 L75.2 195.6 L78.9 194.7 L82.5 195.6 L85.5 197.5 L89.5 202.5 L93.2 202 L96.8 201.1 L100.5 200.2 L104.2 201.1 L107.9 203.9 L111.5 202.9 L115.2 204.8 L118.9 206.6 L122.5 209.4 L126.2 211.2 L129.9 212.1 L131.7 217.6" fill="none" stroke="#8fd03a" stroke-width="1.2" stroke-linejoin="round"/>
<path d="M50.4 205.4L53.4 208.4L50.4 211.4L47.4 208.4Z" fill="#8fd03a"/>
<path d="M54.1 200.9L57.1 203.9L54.1 206.9L51.1 203.9Z" fill="#8fd03a"/>
<path d="M57.8 197.2L60.8 200.2L57.8 203.2L54.8 200.2Z" fill="#8fd03a"/>
<path d="M61.4 193.5L64.4 196.5L61.4 199.5L58.4 196.5Z" fill="#8fd03a"/>
<path d="M65.1 190.8L68.1 193.8L65.1 196.8L62.1 193.8Z" fill="#8fd03a"/>
<path d="M67.9 188L70.9 191L67.9 194L64.9 191Z" fill="#8fd03a"/>
<path d="M71.5 189.8L74.5 192.8L71.5 195.8L68.5 192.8Z" fill="#8fd03a"/>
<path d="M75.2 192.6L78.2 195.6L75.2 198.6L72.2 195.6Z" fill="#8fd03a"/>
<path d="M78.9 191.7L81.9 194.7L78.9 197.7L75.9 194.7Z" fill="#8fd03a"/>
<path d="M82.5 192.6L85.5 195.6L82.5 198.6L79.5 195.6Z" fill="#8fd03a"/>
<path d="M85.5 194.5L88.5 197.5L85.5 200.5L82.5 197.5Z" fill="#8fd03a"/>
<path d="M89.5 199.5L92.5 202.5L89.5 205.5L86.5 202.5Z" fill="#8fd03a"/>
<path d="M93.2 199L96.2 202L93.2 205L90.2 202Z" fill="#8fd03a"/>
<path d="M96.8 198.1L99.8 201.1L96.8 204.1L93.8 201.1Z" fill="#8fd03a"/>
<path d="M100.5 197.2L103.5 200.2L100.5 203.2L97.5 200.2Z" fill="#8fd03a"/>
<path d="M104.2 198.1L107.2 201.1L104.2 204.1L101.2 201.1Z" fill="#8fd03a"/>
<path d="M107.9 200.9L110.9 203.9L107.9 206.9L104.9 203.9Z" fill="#8fd03a"/>
<path d="M111.5 199.9L114.5 202.9L111.5 205.9L108.5 202.9Z" fill="#8fd03a"/>
<path d="M115.2 201.8L118.2 204.8L115.2 207.8L112.2 204.8Z" fill="#8fd03a"/>
<path d="M118.9 203.6L121.9 206.6L118.9 209.6L115.9 206.6Z" fill="#8fd03a"/>
<path d="M122.5 206.4L125.5 209.4L122.5 212.4L119.5 209.4Z" fill="#8fd03a"/>
<path d="M126.2 208.2L129.2 211.2L126.2 214.2L123.2 211.2Z" fill="#8fd03a"/>
<path d="M129.9 209.1L132.9 212.1L129.9 215.1L126.9 212.1Z" fill="#8fd03a"/>
<path d="M131.7 214.6L134.7 217.6L131.7 220.6L128.7 217.6Z" fill="#8fd03a"/>
<path d="M50.4 211.2 L54.1 207.5 L57.8 203.9 L62.3 200.2 L66 197.4 L69.7 194.7 L73.4 196.5 L77 197.4 L80.7 200.2 L84.4 202.9 L86.5 206 L89.5 209 L93.2 210.3 L96.8 206.6 L100.5 209.4 L104.2 210.3 L107.9 207.5 L111.5 209.4 L115.2 210.3 L118.9 212.1 L122.5 213 L126.2 213.9 L130.8 214.9" fill="none" stroke="#ffa510" stroke-width="1.2" stroke-linejoin="round"/>
<path d="M50.4 208.1L53.5 213.52L47.3 213.52Z" fill="#ffa510"/>
<path d="M54.1 204.4L57.2 209.82L51 209.82Z" fill="#ffa510"/>
<path d="M57.8 200.8L60.9 206.22L54.7 206.22Z" fill="#ffa510"/>
<path d="M62.3 197.1L65.4 202.52L59.2 202.52Z" fill="#ffa510"/>
<path d="M66 194.3L69.1 199.72L62.9 199.72Z" fill="#ffa510"/>
<path d="M69.7 191.6L72.8 197.02L66.6 197.02Z" fill="#ffa510"/>
<path d="M73.4 193.4L76.5 198.82L70.3 198.82Z" fill="#ffa510"/>
<path d="M77 194.3L80.1 199.72L73.9 199.72Z" fill="#ffa510"/>
<path d="M80.7 197.1L83.8 202.52L77.6 202.52Z" fill="#ffa510"/>
<path d="M84.4 199.8L87.5 205.22L81.3 205.22Z" fill="#ffa510"/>
<path d="M86.5 202.9L89.6 208.32L83.4 208.32Z" fill="#ffa510"/>
<path d="M89.5 205.9L92.6 211.32L86.4 211.32Z" fill="#ffa510"/>
<path d="M93.2 207.2L96.3 212.62L90.1 212.62Z" fill="#ffa510"/>
<path d="M96.8 203.5L99.9 208.92L93.7 208.92Z" fill="#ffa510"/>
<path d="M100.5 206.3L103.6 211.72L97.4 211.72Z" fill="#ffa510"/>
<path d="M104.2 207.2L107.3 212.62L101.1 212.62Z" fill="#ffa510"/>
<path d="M107.9 204.4L111 209.82L104.8 209.82Z" fill="#ffa510"/>
<path d="M111.5 206.3L114.6 211.72L108.4 211.72Z" fill="#ffa510"/>
<path d="M115.2 207.2L118.3 212.62L112.1 212.62Z" fill="#ffa510"/>
<path d="M118.9 209L122 214.42L115.8 214.42Z" fill="#ffa510"/>
<path d="M122.5 209.9L125.6 215.32L119.4 215.32Z" fill="#ffa510"/>
<path d="M126.2 210.8L129.3 216.22L123.1 216.22Z" fill="#ffa510"/>
<path d="M130.8 211.8L133.9 217.22L127.7 217.22Z" fill="#ffa510"/>
<path d="M50.4 213.9 L54.1 210.3 L57.8 207.5 L61.4 203.9 L65.1 201.1 L67.9 198.3 L71.5 199.3 L75.2 202 L78.9 203.9 L82.5 205.7 L86.2 207.5 L89.7 210 L93.2 213 L96.8 214.9 L100.5 212.1 L104.2 210.3 L107.9 212.1 L111.5 213 L115.2 214.9 L118.9 215.8 L122.5 216.7 L126.2 217.6 L129.9 219.4 L131.7 221.3" fill="none" stroke="#e8141c" stroke-width="1.2" stroke-linejoin="round"/>
<path d="M47.3 213.9L52.73 210.8L52.73 217Z" fill="#e8141c"/>
<path d="M51 210.3L56.43 207.2L56.43 213.4Z" fill="#e8141c"/>
<path d="M54.7 207.5L60.12 204.4L60.12 210.6Z" fill="#e8141c"/>
<path d="M58.3 203.9L63.73 200.8L63.73 207Z" fill="#e8141c"/>
<path d="M62 201.1L67.42 198L67.42 204.2Z" fill="#e8141c"/>
<path d="M64.8 198.3L70.23 195.2L70.23 201.4Z" fill="#e8141c"/>
<path d="M68.4 199.3L73.83 196.2L73.83 202.4Z" fill="#e8141c"/>
<path d="M72.1 202L77.53 198.9L77.53 205.1Z" fill="#e8141c"/>
<path d="M75.8 203.9L81.23 200.8L81.23 207Z" fill="#e8141c"/>
<path d="M79.4 205.7L84.83 202.6L84.83 208.8Z" fill="#e8141c"/>
<path d="M83.1 207.5L88.53 204.4L88.53 210.6Z" fill="#e8141c"/>
<path d="M86.6 210L92.03 206.9L92.03 213.1Z" fill="#e8141c"/>
<path d="M90.1 213L95.53 209.9L95.53 216.1Z" fill="#e8141c"/>
<path d="M93.7 214.9L99.12 211.8L99.12 218Z" fill="#e8141c"/>
<path d="M97.4 212.1L102.83 209L102.83 215.2Z" fill="#e8141c"/>
<path d="M101.1 210.3L106.53 207.2L106.53 213.4Z" fill="#e8141c"/>
<path d="M104.8 212.1L110.23 209L110.23 215.2Z" fill="#e8141c"/>
<path d="M108.4 213L113.83 209.9L113.83 216.1Z" fill="#e8141c"/>
<path d="M112.1 214.9L117.53 211.8L117.53 218Z" fill="#e8141c"/>
<path d="M115.8 215.8L121.23 212.7L121.23 218.9Z" fill="#e8141c"/>
<path d="M119.4 216.7L124.83 213.6L124.83 219.8Z" fill="#e8141c"/>
<path d="M123.1 217.6L128.53 214.5L128.53 220.7Z" fill="#e8141c"/>
<path d="M126.8 219.4L132.22 216.3L132.22 222.5Z" fill="#e8141c"/>
<path d="M128.6 221.3L134.02 218.2L134.02 224.4Z" fill="#e8141c"/>
</g>
<path d="M46.6 144.5V227.3H134" fill="none" stroke="#1a1a1a" stroke-width="1"/>
<path d="M46.6 144.5h4.5M46.6 165.2h2.5M46.6 185.9h4.5M46.6 206.6h2.5M68.45 227.3v-2.5M90.3 227.3v-4.5M112.15 227.3v-2.5M134 227.3v-4.5" fill="none" stroke="#1a1a1a" stroke-width="1"/>
<text x="43.2" y="149" text-anchor="end" class="t">0.05</text>
<text x="43.2" y="190.4" text-anchor="end" class="t">0.03</text>
<text x="43.2" y="231.8" text-anchor="end" class="t">0.00</text>
<text x="46.8" y="240.8" text-anchor="middle" class="t">0</text>
<text x="90.5" y="240.8" text-anchor="middle" class="t">0.5</text>
<text x="134.2" y="240.8" text-anchor="middle" class="t">1</text>
<text x="90.3" y="251.9" text-anchor="middle" class="ax">a</text>
<clipPath id="c11"><rect x="173.6" y="144.5" width="97.4" height="86.8"/></clipPath>
<g clip-path="url(#c11)">
<path d="M181.4 189.2 L184.2 187.3 L187.8 184 L191.5 176.7 L195.2 175.8 L197.9 173 L201.6 169.4 L205.3 167.5 L208.4 158.3 L211.7 162 L215 173 L218.3 158.3 L221.4 165.7 L225.1 168.4 L228.2 174.9 L231.5 161.1 L235.2 163.9 L238.5 167.5 L241.6 152.8 L245.3 153.8 L248.4 163.9 L251.7 173 L255 184 L258.1 193.8 L261.8 193.8" fill="none" stroke="#0b4ea6" stroke-width="1.2" stroke-linejoin="round"/>
<circle cx="181.4" cy="189.2" r="2.7" fill="#0b4ea6"/>
<circle cx="184.2" cy="187.3" r="2.7" fill="#0b4ea6"/>
<circle cx="187.8" cy="184" r="2.7" fill="#0b4ea6"/>
<circle cx="191.5" cy="176.7" r="2.7" fill="#0b4ea6"/>
<circle cx="195.2" cy="175.8" r="2.7" fill="#0b4ea6"/>
<circle cx="197.9" cy="173" r="2.7" fill="#0b4ea6"/>
<circle cx="201.6" cy="169.4" r="2.7" fill="#0b4ea6"/>
<circle cx="205.3" cy="167.5" r="2.7" fill="#0b4ea6"/>
<circle cx="208.4" cy="158.3" r="2.7" fill="#0b4ea6"/>
<circle cx="211.7" cy="162" r="2.7" fill="#0b4ea6"/>
<circle cx="215" cy="173" r="2.7" fill="#0b4ea6"/>
<circle cx="218.3" cy="158.3" r="2.7" fill="#0b4ea6"/>
<circle cx="221.4" cy="165.7" r="2.7" fill="#0b4ea6"/>
<circle cx="225.1" cy="168.4" r="2.7" fill="#0b4ea6"/>
<circle cx="228.2" cy="174.9" r="2.7" fill="#0b4ea6"/>
<circle cx="231.5" cy="161.1" r="2.7" fill="#0b4ea6"/>
<circle cx="235.2" cy="163.9" r="2.7" fill="#0b4ea6"/>
<circle cx="238.5" cy="167.5" r="2.7" fill="#0b4ea6"/>
<circle cx="241.6" cy="152.8" r="2.7" fill="#0b4ea6"/>
<circle cx="245.3" cy="153.8" r="2.7" fill="#0b4ea6"/>
<circle cx="248.4" cy="163.9" r="2.7" fill="#0b4ea6"/>
<circle cx="251.7" cy="173" r="2.7" fill="#0b4ea6"/>
<circle cx="255" cy="184" r="2.7" fill="#0b4ea6"/>
<circle cx="258.1" cy="193.8" r="2.7" fill="#0b4ea6"/>
<circle cx="261.8" cy="193.8" r="2.7" fill="#0b4ea6"/>
<path d="M181.4 197.4 L185.1 192.8 L188.8 190.1 L192.4 186.4 L196.1 181.8 L198.9 178.5 L202 180.5 L205.3 180 L208.9 182.8 L211.7 177.6 L214.4 182.8 L217.8 188.3 L221.6 180 L225.1 193.8 L228.8 202 L232 202.5 L235.2 202.9 L237.9 191.9 L241.6 196.5 L244.4 194.7 L248 193.8 L251.7 197.4 L254.4 203.9 L258.1 209.4 L261.8 214.9" fill="none" stroke="#0a8c12" stroke-width="1.2" stroke-linejoin="round"/>
<rect x="179.2" y="195.2" width="4.4" height="4.4" fill="#0a8c12"/>
<rect x="182.9" y="190.6" width="4.4" height="4.4" fill="#0a8c12"/>
<rect x="186.6" y="187.9" width="4.4" height="4.4" fill="#0a8c12"/>
<rect x="190.2" y="184.2" width="4.4" height="4.4" fill="#0a8c12"/>
<rect x="193.9" y="179.6" width="4.4" height="4.4" fill="#0a8c12"/>
<rect x="196.7" y="176.3" width="4.4" height="4.4" fill="#0a8c12"/>
<rect x="199.8" y="178.3" width="4.4" height="4.4" fill="#0a8c12"/>
<rect x="203.1" y="177.8" width="4.4" height="4.4" fill="#0a8c12"/>
<rect x="206.7" y="180.6" width="4.4" height="4.4" fill="#0a8c12"/>
<rect x="209.5" y="175.4" width="4.4" height="4.4" fill="#0a8c12"/>
<rect x="212.2" y="180.6" width="4.4" height="4.4" fill="#0a8c12"/>
<rect x="215.6" y="186.1" width="4.4" height="4.4" fill="#0a8c12"/>
<rect x="219.4" y="177.8" width="4.4" height="4.4" fill="#0a8c12"/>
<rect x="222.9" y="191.6" width="4.4" height="4.4" fill="#0a8c12"/>
<rect x="226.6" y="199.8" width="4.4" height="4.4" fill="#0a8c12"/>
<rect x="229.8" y="200.3" width="4.4" height="4.4" fill="#0a8c12"/>
<rect x="233" y="200.7" width="4.4" height="4.4" fill="#0a8c12"/>
<rect x="235.7" y="189.7" width="4.4" height="4.4" fill="#0a8c12"/>
<rect x="239.4" y="194.3" width="4.4" height="4.4" fill="#0a8c12"/>
<rect x="242.2" y="192.5" width="4.4" height="4.4" fill="#0a8c12"/>
<rect x="245.8" y="191.6" width="4.4" height="4.4" fill="#0a8c12"/>
<rect x="249.5" y="195.2" width="4.4" height="4.4" fill="#0a8c12"/>
<rect x="252.2" y="201.7" width="4.4" height="4.4" fill="#0a8c12"/>
<rect x="255.9" y="207.2" width="4.4" height="4.4" fill="#0a8c12"/>
<rect x="259.6" y="212.7" width="4.4" height="4.4" fill="#0a8c12"/>
<path d="M181.4 200.2 L185.1 195.6 L188.8 191.9 L191.5 187.3 L195.2 185.5 L199 185 L202.5 184.6 L205.3 182.8 L208.9 184.6 L212.6 192.8 L215.4 190.1 L219 194.7 L221.8 197.4 L225.5 197.4 L228.8 199.3 L232.4 203.9 L235.2 201.1 L238.9 205.7 L242.5 204.8 L246.2 209.4 L249.9 207.5 L254 209 L258.1 213 L261.8 216.7" fill="none" stroke="#8fd03a" stroke-width="1.2" stroke-linejoin="round"/>
<path d="M181.4 197.2L184.4 200.2L181.4 203.2L178.4 200.2Z" fill="#8fd03a"/>
<path d="M185.1 192.6L188.1 195.6L185.1 198.6L182.1 195.6Z" fill="#8fd03a"/>
<path d="M188.8 188.9L191.8 191.9L188.8 194.9L185.8 191.9Z" fill="#8fd03a"/>
<path d="M191.5 184.3L194.5 187.3L191.5 190.3L188.5 187.3Z" fill="#8fd03a"/>
<path d="M195.2 182.5L198.2 185.5L195.2 188.5L192.2 185.5Z" fill="#8fd03a"/>
<path d="M199 182L202 185L199 188L196 185Z" fill="#8fd03a"/>
<path d="M202.5 181.6L205.5 184.6L202.5 187.6L199.5 184.6Z" fill="#8fd03a"/>
<path d="M205.3 179.8L208.3 182.8L205.3 185.8L202.3 182.8Z" fill="#8fd03a"/>
<path d="M208.9 181.6L211.9 184.6L208.9 187.6L205.9 184.6Z" fill="#8fd03a"/>
<path d="M212.6 189.8L215.6 192.8L212.6 195.8L209.6 192.8Z" fill="#8fd03a"/>
<path d="M215.4 187.1L218.4 190.1L215.4 193.1L212.4 190.1Z" fill="#8fd03a"/>
<path d="M219 191.7L222 194.7L219 197.7L216 194.7Z" fill="#8fd03a"/>
<path d="M221.8 194.4L224.8 197.4L221.8 200.4L218.8 197.4Z" fill="#8fd03a"/>
<path d="M225.5 194.4L228.5 197.4L225.5 200.4L222.5 197.4Z" fill="#8fd03a"/>
<path d="M228.8 196.3L231.8 199.3L228.8 202.3L225.8 199.3Z" fill="#8fd03a"/>
<path d="M232.4 200.9L235.4 203.9L232.4 206.9L229.4 203.9Z" fill="#8fd03a"/>
<path d="M235.2 198.1L238.2 201.1L235.2 204.1L232.2 201.1Z" fill="#8fd03a"/>
<path d="M238.9 202.7L241.9 205.7L238.9 208.7L235.9 205.7Z" fill="#8fd03a"/>
<path d="M242.5 201.8L245.5 204.8L242.5 207.8L239.5 204.8Z" fill="#8fd03a"/>
<path d="M246.2 206.4L249.2 209.4L246.2 212.4L243.2 209.4Z" fill="#8fd03a"/>
<path d="M249.9 204.5L252.9 207.5L249.9 210.5L246.9 207.5Z" fill="#8fd03a"/>
<path d="M254 206L257 209L254 212L251 209Z" fill="#8fd03a"/>
<path d="M258.1 210L261.1 213L258.1 216L255.1 213Z" fill="#8fd03a"/>
<path d="M261.8 213.7L264.8 216.7L261.8 219.7L258.8 216.7Z" fill="#8fd03a"/>
<path d="M181.4 202.9 L185.1 198.3 L188.8 194.7 L193.3 192.8 L197 188.3 L200.7 183.7 L204.5 190 L208 186.4 L210.8 196.5 L214.4 202 L216.8 200.2 L220.5 206 L224.2 209.4 L228.8 205.7 L232.5 208 L236.1 210.3 L239.8 213 L244.4 217.6 L248 205.7 L251.7 203.9 L255.5 212 L259 215.8 L262.3 219.4" fill="none" stroke="#ffa510" stroke-width="1.2" stroke-linejoin="round"/>
<path d="M181.4 199.8L184.5 205.22L178.3 205.22Z" fill="#ffa510"/>
<path d="M185.1 195.2L188.2 200.62L182 200.62Z" fill="#ffa510"/>
<path d="M188.8 191.6L191.9 197.02L185.7 197.02Z" fill="#ffa510"/>
<path d="M193.3 189.7L196.4 195.12L190.2 195.12Z" fill="#ffa510"/>
<path d="M197 185.2L200.1 190.62L193.9 190.62Z" fill="#ffa510"/>
<path d="M200.7 180.6L203.8 186.02L197.6 186.02Z" fill="#ffa510"/>
<path d="M204.5 186.9L207.6 192.32L201.4 192.32Z" fill="#ffa510"/>
<path d="M208 183.3L211.1 188.72L204.9 188.72Z" fill="#ffa510"/>
<path d="M210.8 193.4L213.9 198.82L207.7 198.82Z" fill="#ffa510"/>
<path d="M214.4 198.9L217.5 204.32L211.3 204.32Z" fill="#ffa510"/>
<path d="M216.8 197.1L219.9 202.52L213.7 202.52Z" fill="#ffa510"/>
<path d="M220.5 202.9L223.6 208.32L217.4 208.32Z" fill="#ffa510"/>
<path d="M224.2 206.3L227.3 211.72L221.1 211.72Z" fill="#ffa510"/>
<path d="M228.8 202.6L231.9 208.02L225.7 208.02Z" fill="#ffa510"/>
<path d="M232.5 204.9L235.6 210.32L229.4 210.32Z" fill="#ffa510"/>
<path d="M236.1 207.2L239.2 212.62L233 212.62Z" fill="#ffa510"/>
<path d="M239.8 209.9L242.9 215.32L236.7 215.32Z" fill="#ffa510"/>
<path d="M244.4 214.5L247.5 219.92L241.3 219.92Z" fill="#ffa510"/>
<path d="M248 202.6L251.1 208.02L244.9 208.02Z" fill="#ffa510"/>
<path d="M251.7 200.8L254.8 206.22L248.6 206.22Z" fill="#ffa510"/>
<path d="M255.5 208.9L258.6 214.32L252.4 214.32Z" fill="#ffa510"/>
<path d="M259 212.7L262.1 218.12L255.9 218.12Z" fill="#ffa510"/>
<path d="M262.3 216.3L265.4 221.72L259.2 221.72Z" fill="#ffa510"/>
<path d="M181.4 204.8 L185.1 199.3 L189.6 195.6 L194.3 198.3 L197.9 187.3 L201.6 184.6 L204.4 194.7 L208 186.4 L210.8 198.3 L214.4 201.1 L217.2 205.7 L220.5 206.6 L224.2 208.4 L227.8 207.5 L231.5 209.4 L235.2 212.1 L238.9 214.9 L242.5 213.9 L246.2 213 L249.9 213.9 L253.5 213 L257.2 215.8 L261.8 219.4" fill="none" stroke="#e8141c" stroke-width="1.2" stroke-linejoin="round"/>
<path d="M178.3 204.8L183.72 201.7L183.72 207.9Z" fill="#e8141c"/>
<path d="M182 199.3L187.42 196.2L187.42 202.4Z" fill="#e8141c"/>
<path d="M186.5 195.6L191.92 192.5L191.92 198.7Z" fill="#e8141c"/>
<path d="M191.2 198.3L196.62 195.2L196.62 201.4Z" fill="#e8141c"/>
<path d="M194.8 187.3L200.22 184.2L200.22 190.4Z" fill="#e8141c"/>
<path d="M198.5 184.6L203.92 181.5L203.92 187.7Z" fill="#e8141c"/>
<path d="M201.3 194.7L206.72 191.6L206.72 197.8Z" fill="#e8141c"/>
<path d="M204.9 186.4L210.32 183.3L210.32 189.5Z" fill="#e8141c"/>
<path d="M207.7 198.3L213.12 195.2L213.12 201.4Z" fill="#e8141c"/>
<path d="M211.3 201.1L216.72 198L216.72 204.2Z" fill="#e8141c"/>
<path d="M214.1 205.7L219.52 202.6L219.52 208.8Z" fill="#e8141c"/>
<path d="M217.4 206.6L222.82 203.5L222.82 209.7Z" fill="#e8141c"/>
<path d="M221.1 208.4L226.52 205.3L226.52 211.5Z" fill="#e8141c"/>
<path d="M224.7 207.5L230.12 204.4L230.12 210.6Z" fill="#e8141c"/>
<path d="M228.4 209.4L233.82 206.3L233.82 212.5Z" fill="#e8141c"/>
<path d="M232.1 212.1L237.52 209L237.52 215.2Z" fill="#e8141c"/>
<path d="M235.8 214.9L241.22 211.8L241.22 218Z" fill="#e8141c"/>
<path d="M239.4 213.9L244.82 210.8L244.82 217Z" fill="#e8141c"/>
<path d="M243.1 213L248.52 209.9L248.52 216.1Z" fill="#e8141c"/>
<path d="M246.8 213.9L252.22 210.8L252.22 217Z" fill="#e8141c"/>
<path d="M250.4 213L255.82 209.9L255.82 216.1Z" fill="#e8141c"/>
<path d="M254.1 215.8L259.52 212.7L259.52 218.9Z" fill="#e8141c"/>
<path d="M258.7 219.4L264.12 216.3L264.12 222.5Z" fill="#e8141c"/>
</g>
<path d="M177.6 144.5V227.3H265" fill="none" stroke="#1a1a1a" stroke-width="1"/>
<path d="M177.6 144.5h4.5M177.6 165.2h2.5M177.6 185.9h4.5M177.6 206.6h2.5M199.45 227.3v-2.5M221.3 227.3v-4.5M243.15 227.3v-2.5M265 227.3v-4.5" fill="none" stroke="#1a1a1a" stroke-width="1"/>
<text x="174.2" y="149" text-anchor="end" class="t">0.14</text>
<text x="174.2" y="190.4" text-anchor="end" class="t">0.07</text>
<text x="174.2" y="231.8" text-anchor="end" class="t">0.00</text>
<text x="177.8" y="240.8" text-anchor="middle" class="t">0</text>
<text x="221.5" y="240.8" text-anchor="middle" class="t">0.5</text>
<text x="265.2" y="240.8" text-anchor="middle" class="t">1</text>
<text x="221.3" y="251.9" text-anchor="middle" class="ax">a</text>
<clipPath id="c12"><rect x="304.6" y="144.5" width="97.4" height="86.8"/></clipPath>
<g clip-path="url(#c12)">
<path d="M312 208.6 L315.2 203 L318.4 195.1 L322.3 183.9 L325.5 176.8 L328.5 170.5 L332.5 162.9 L336.2 155.6 L338.9 154.7 L342.6 157.4 L346.3 150.1 L349.3 156.5 L352.5 150.1 L356.1 162.9 L359.2 154.7 L362.5 151.9 L365.8 151.9 L369.5 145.5 L372.6 150.1 L375.7 154.7 L379 154.7 L382.7 149.2 L386 149.2 L389.1 147.3 L392.8 159.3" fill="none" stroke="#0b4ea6" stroke-width="1.2" stroke-linejoin="round"/>
<circle cx="312" cy="208.6" r="2.7" fill="#0b4ea6"/>
<circle cx="315.2" cy="203" r="2.7" fill="#0b4ea6"/>
<circle cx="318.4" cy="195.1" r="2.7" fill="#0b4ea6"/>
<circle cx="322.3" cy="183.9" r="2.7" fill="#0b4ea6"/>
<circle cx="325.5" cy="176.8" r="2.7" fill="#0b4ea6"/>
<circle cx="328.5" cy="170.5" r="2.7" fill="#0b4ea6"/>
<circle cx="332.5" cy="162.9" r="2.7" fill="#0b4ea6"/>
<circle cx="336.2" cy="155.6" r="2.7" fill="#0b4ea6"/>
<circle cx="338.9" cy="154.7" r="2.7" fill="#0b4ea6"/>
<circle cx="342.6" cy="157.4" r="2.7" fill="#0b4ea6"/>
<circle cx="346.3" cy="150.1" r="2.7" fill="#0b4ea6"/>
<circle cx="349.3" cy="156.5" r="2.7" fill="#0b4ea6"/>
<circle cx="352.5" cy="150.1" r="2.7" fill="#0b4ea6"/>
<circle cx="356.1" cy="162.9" r="2.7" fill="#0b4ea6"/>
<circle cx="359.2" cy="154.7" r="2.7" fill="#0b4ea6"/>
<circle cx="362.5" cy="151.9" r="2.7" fill="#0b4ea6"/>
<circle cx="365.8" cy="151.9" r="2.7" fill="#0b4ea6"/>
<circle cx="369.5" cy="145.5" r="2.7" fill="#0b4ea6"/>
<circle cx="372.6" cy="150.1" r="2.7" fill="#0b4ea6"/>
<circle cx="375.7" cy="154.7" r="2.7" fill="#0b4ea6"/>
<circle cx="379" cy="154.7" r="2.7" fill="#0b4ea6"/>
<circle cx="382.7" cy="149.2" r="2.7" fill="#0b4ea6"/>
<circle cx="386" cy="149.2" r="2.7" fill="#0b4ea6"/>
<circle cx="389.1" cy="147.3" r="2.7" fill="#0b4ea6"/>
<circle cx="392.8" cy="159.3" r="2.7" fill="#0b4ea6"/>
<path d="M312.3 213 L315.1 206.6 L319.1 199.1 L322.3 191.9 L325.5 184.7 L328.7 179.2 L332.5 173.9 L336.2 167.5 L339.5 172 L342.6 169.4 L346 183.5 L348.8 175.7 L352.4 174.8 L356.1 184.8 L359.8 187.6 L363.4 189.4 L366.2 190.3 L368.9 184.8 L372.6 199.5 L375.4 182.1 L379 180.3 L382.7 195.9 L385.4 196.8 L389.1 175.7 L392.8 195.9" fill="none" stroke="#0a8c12" stroke-width="1.2" stroke-linejoin="round"/>
<rect x="310.1" y="210.8" width="4.4" height="4.4" fill="#0a8c12"/>
<rect x="312.9" y="204.4" width="4.4" height="4.4" fill="#0a8c12"/>
<rect x="316.9" y="196.9" width="4.4" height="4.4" fill="#0a8c12"/>
<rect x="320.1" y="189.7" width="4.4" height="4.4" fill="#0a8c12"/>
<rect x="323.3" y="182.5" width="4.4" height="4.4" fill="#0a8c12"/>
<rect x="326.5" y="177" width="4.4" height="4.4" fill="#0a8c12"/>
<rect x="330.3" y="171.7" width="4.4" height="4.4" fill="#0a8c12"/>
<rect x="334" y="165.3" width="4.4" height="4.4" fill="#0a8c12"/>
<rect x="337.3" y="169.8" width="4.4" height="4.4" fill="#0a8c12"/>
<rect x="340.4" y="167.2" width="4.4" height="4.4" fill="#0a8c12"/>
<rect x="343.8" y="181.3" width="4.4" height="4.4" fill="#0a8c12"/>
<rect x="346.6" y="173.5" width="4.4" height="4.4" fill="#0a8c12"/>
<rect x="350.2" y="172.6" width="4.4" height="4.4" fill="#0a8c12"/>
<rect x="353.9" y="182.6" width="4.4" height="4.4" fill="#0a8c12"/>
<rect x="357.6" y="185.4" width="4.4" height="4.4" fill="#0a8c12"/>
<rect x="361.2" y="187.2" width="4.4" height="4.4" fill="#0a8c12"/>
<rect x="364" y="188.1" width="4.4" height="4.4" fill="#0a8c12"/>
<rect x="366.7" y="182.6" width="4.4" height="4.4" fill="#0a8c12"/>
<rect x="370.4" y="197.3" width="4.4" height="4.4" fill="#0a8c12"/>
<rect x="373.2" y="179.9" width="4.4" height="4.4" fill="#0a8c12"/>
<rect x="376.8" y="178.1" width="4.4" height="4.4" fill="#0a8c12"/>
<rect x="380.5" y="193.7" width="4.4" height="4.4" fill="#0a8c12"/>
<rect x="383.2" y="194.6" width="4.4" height="4.4" fill="#0a8c12"/>
<rect x="386.9" y="173.5" width="4.4" height="4.4" fill="#0a8c12"/>
<rect x="390.6" y="193.7" width="4.4" height="4.4" fill="#0a8c12"/>
<path d="M312.3 213.9 L316 209.4 L319.7 202 L323.3 194.7 L327 188.3 L331.9 183.1 L335.5 180 L339.5 176 L343 181 L346.2 178.4 L349.7 182.1 L353.3 189.4 L356 185 L358.8 183.9 L362.5 192.2 L366.2 193.1 L369.9 194 L373.5 195.9 L377.5 202 L381.8 199.5 L386.4 199.5 L390 195.9 L392.8 200.4" fill="none" stroke="#8fd03a" stroke-width="1.2" stroke-linejoin="round"/>
<path d="M312.3 210.9L315.3 213.9L312.3 216.9L309.3 213.9Z" fill="#8fd03a"/>
<path d="M316 206.4L319 209.4L316 212.4L313 209.4Z" fill="#8fd03a"/>
<path d="M319.7 199L322.7 202L319.7 205L316.7 202Z" fill="#8fd03a"/>
<path d="M323.3 191.7L326.3 194.7L323.3 197.7L320.3 194.7Z" fill="#8fd03a"/>
<path d="M327 185.3L330 188.3L327 191.3L324 188.3Z" fill="#8fd03a"/>
<path d="M331.9 180.1L334.9 183.1L331.9 186.1L328.9 183.1Z" fill="#8fd03a"/>
<path d="M335.5 177L338.5 180L335.5 183L332.5 180Z" fill="#8fd03a"/>
<path d="M339.5 173L342.5 176L339.5 179L336.5 176Z" fill="#8fd03a"/>
<path d="M343 178L346 181L343 184L340 181Z" fill="#8fd03a"/>
<path d="M346.2 175.4L349.2 178.4L346.2 181.4L343.2 178.4Z" fill="#8fd03a"/>
<path d="M349.7 179.1L352.7 182.1L349.7 185.1L346.7 182.1Z" fill="#8fd03a"/>
<path d="M353.3 186.4L356.3 189.4L353.3 192.4L350.3 189.4Z" fill="#8fd03a"/>
<path d="M356 182L359 185L356 188L353 185Z" fill="#8fd03a"/>
<path d="M358.8 180.9L361.8 183.9L358.8 186.9L355.8 183.9Z" fill="#8fd03a"/>
<path d="M362.5 189.2L365.5 192.2L362.5 195.2L359.5 192.2Z" fill="#8fd03a"/>
<path d="M366.2 190.1L369.2 193.1L366.2 196.1L363.2 193.1Z" fill="#8fd03a"/>
<path d="M369.9 191L372.9 194L369.9 197L366.9 194Z" fill="#8fd03a"/>
<path d="M373.5 192.9L376.5 195.9L373.5 198.9L370.5 195.9Z" fill="#8fd03a"/>
<path d="M377.5 199L380.5 202L377.5 205L374.5 202Z" fill="#8fd03a"/>
<path d="M381.8 196.5L384.8 199.5L381.8 202.5L378.8 199.5Z" fill="#8fd03a"/>
<path d="M386.4 196.5L389.4 199.5L386.4 202.5L383.4 199.5Z" fill="#8fd03a"/>
<path d="M390 192.9L393 195.9L390 198.9L387 195.9Z" fill="#8fd03a"/>
<path d="M392.8 197.4L395.8 200.4L392.8 203.4L389.8 200.4Z" fill="#8fd03a"/>
<path d="M312.3 216.7 L316 212 L319.7 207.5 L323.9 201.5 L327.5 195 L331.9 187.9 L335.5 180 L338.9 171.2 L342.5 182 L347 189.5 L350.2 188.7 L354.3 194 L358.8 194.9 L362.5 199.5 L367.1 197.7 L369.9 206 L373.5 204.1 L377.2 206 L381.8 203.2 L386.4 202.3 L390 201.4 L392.8 201.4" fill="none" stroke="#ffa510" stroke-width="1.2" stroke-linejoin="round"/>
<path d="M312.3 213.6L315.4 219.02L309.2 219.02Z" fill="#ffa510"/>
<path d="M316 208.9L319.1 214.32L312.9 214.32Z" fill="#ffa510"/>
<path d="M319.7 204.4L322.8 209.82L316.6 209.82Z" fill="#ffa510"/>
<path d="M323.9 198.4L327 203.82L320.8 203.82Z" fill="#ffa510"/>
<path d="M327.5 191.9L330.6 197.32L324.4 197.32Z" fill="#ffa510"/>
<path d="M331.9 184.8L335 190.22L328.8 190.22Z" fill="#ffa510"/>
<path d="M335.5 176.9L338.6 182.32L332.4 182.32Z" fill="#ffa510"/>
<path d="M338.9 168.1L342 173.52L335.8 173.52Z" fill="#ffa510"/>
<path d="M342.5 178.9L345.6 184.32L339.4 184.32Z" fill="#ffa510"/>
<path d="M347 186.4L350.1 191.82L343.9 191.82Z" fill="#ffa510"/>
<path d="M350.2 185.6L353.3 191.02L347.1 191.02Z" fill="#ffa510"/>
<path d="M354.3 190.9L357.4 196.32L351.2 196.32Z" fill="#ffa510"/>
<path d="M358.8 191.8L361.9 197.22L355.7 197.22Z" fill="#ffa510"/>
<path d="M362.5 196.4L365.6 201.82L359.4 201.82Z" fill="#ffa510"/>
<path d="M367.1 194.6L370.2 200.02L364 200.02Z" fill="#ffa510"/>
<path d="M369.9 202.9L373 208.32L366.8 208.32Z" fill="#ffa510"/>
<path d="M373.5 201L376.6 206.42L370.4 206.42Z" fill="#ffa510"/>
<path d="M377.2 202.9L380.3 208.32L374.1 208.32Z" fill="#ffa510"/>
<path d="M381.8 200.1L384.9 205.52L378.7 205.52Z" fill="#ffa510"/>
<path d="M386.4 199.2L389.5 204.62L383.3 204.62Z" fill="#ffa510"/>
<path d="M390 198.3L393.1 203.72L386.9 203.72Z" fill="#ffa510"/>
<path d="M392.8 198.3L395.9 203.72L389.7 203.72Z" fill="#ffa510"/>
<path d="M312.3 217.6 L316 213.9 L319.7 210.3 L322.3 207 L326.3 204.6 L327.9 191.9 L331.6 190.1 L335.1 186.3 L339.8 184 L342.2 196.7 L346.2 197.5 L349.4 194.3 L353.3 201.4 L357 203.2 L360.7 204.1 L364.3 203.2 L368 202.3 L371.7 215.1 L374.4 209.6 L378.1 207.8 L381.8 206 L384.5 213.3 L388.2 207.8 L391.9 206.9" fill="none" stroke="#e8141c" stroke-width="1.2" stroke-linejoin="round"/>
<path d="M309.2 217.6L314.62 214.5L314.62 220.7Z" fill="#e8141c"/>
<path d="M312.9 213.9L318.32 210.8L318.32 217Z" fill="#e8141c"/>
<path d="M316.6 210.3L322.02 207.2L322.02 213.4Z" fill="#e8141c"/>
<path d="M319.2 207L324.62 203.9L324.62 210.1Z" fill="#e8141c"/>
<path d="M323.2 204.6L328.62 201.5L328.62 207.7Z" fill="#e8141c"/>
<path d="M324.8 191.9L330.22 188.8L330.22 195Z" fill="#e8141c"/>
<path d="M328.5 190.1L333.93 187L333.93 193.2Z" fill="#e8141c"/>
<path d="M332 186.3L337.43 183.2L337.43 189.4Z" fill="#e8141c"/>
<path d="M336.7 184L342.12 180.9L342.12 187.1Z" fill="#e8141c"/>
<path d="M339.1 196.7L344.52 193.6L344.52 199.8Z" fill="#e8141c"/>
<path d="M343.1 197.5L348.52 194.4L348.52 200.6Z" fill="#e8141c"/>
<path d="M346.3 194.3L351.72 191.2L351.72 197.4Z" fill="#e8141c"/>
<path d="M350.2 201.4L355.62 198.3L355.62 204.5Z" fill="#e8141c"/>
<path d="M353.9 203.2L359.32 200.1L359.32 206.3Z" fill="#e8141c"/>
<path d="M357.6 204.1L363.02 201L363.02 207.2Z" fill="#e8141c"/>
<path d="M361.2 203.2L366.62 200.1L366.62 206.3Z" fill="#e8141c"/>
<path d="M364.9 202.3L370.32 199.2L370.32 205.4Z" fill="#e8141c"/>
<path d="M368.6 215.1L374.02 212L374.02 218.2Z" fill="#e8141c"/>
<path d="M371.3 209.6L376.72 206.5L376.72 212.7Z" fill="#e8141c"/>
<path d="M375 207.8L380.43 204.7L380.43 210.9Z" fill="#e8141c"/>
<path d="M378.7 206L384.12 202.9L384.12 209.1Z" fill="#e8141c"/>
<path d="M381.4 213.3L386.82 210.2L386.82 216.4Z" fill="#e8141c"/>
<path d="M385.1 207.8L390.52 204.7L390.52 210.9Z" fill="#e8141c"/>
<path d="M388.8 206.9L394.22 203.8L394.22 210Z" fill="#e8141c"/>
</g>
<path d="M308.6 144.5V227.3H396" fill="none" stroke="#1a1a1a" stroke-width="1"/>
<path d="M308.6 144.5h4.5M308.6 165.2h2.5M308.6 185.9h4.5M308.6 206.6h2.5M330.45 227.3v-2.5M352.3 227.3v-4.5M374.15 227.3v-2.5M396 227.3v-4.5" fill="none" stroke="#1a1a1a" stroke-width="1"/>
<text x="305.2" y="149" text-anchor="end" class="t">0.25</text>
<text x="305.2" y="190.4" text-anchor="end" class="t">0.12</text>
<text x="305.2" y="231.8" text-anchor="end" class="t">0.00</text>
<text x="308.8" y="240.8" text-anchor="middle" class="t">0</text>
<text x="352.5" y="240.8" text-anchor="middle" class="t">0.5</text>
<text x="396.2" y="240.8" text-anchor="middle" class="t">1</text>
<text x="352.3" y="251.9" text-anchor="middle" class="ax">a</text>
<clipPath id="c13"><rect x="435.6" y="144.5" width="97.4" height="86.8"/></clipPath>
<g clip-path="url(#c13)">
<path d="M443.3 216.7 L446.1 209 L447.9 203.5 L449.8 199 L452.5 194.9 L456.2 188.4 L458.9 183.4 L462.6 177.9 L466.3 172.9 L469.9 167.9 L473.6 163.4 L477.3 160.9 L480.5 158.9 L484 157.4 L487.5 155.9 L491 154.9 L494.5 153.9 L497 153.5 L499.9 153.8 L503.5 156.5 L507.2 160.2 L509.9 157.4 L513.6 155.6 L517.3 154.7 L521 153.8 L523.7 156.5" fill="none" stroke="#0b4ea6" stroke-width="1.2" stroke-linejoin="round"/>
<circle cx="443.3" cy="216.7" r="2.7" fill="#0b4ea6"/>
<circle cx="446.1" cy="209" r="2.7" fill="#0b4ea6"/>
<circle cx="447.9" cy="203.5" r="2.7" fill="#0b4ea6"/>
<circle cx="449.8" cy="199" r="2.7" fill="#0b4ea6"/>
<circle cx="452.5" cy="194.9" r="2.7" fill="#0b4ea6"/>
<circle cx="456.2" cy="188.4" r="2.7" fill="#0b4ea6"/>
<circle cx="458.9" cy="183.4" r="2.7" fill="#0b4ea6"/>
<circle cx="462.6" cy="177.9" r="2.7" fill="#0b4ea6"/>
<circle cx="466.3" cy="172.9" r="2.7" fill="#0b4ea6"/>
<circle cx="469.9" cy="167.9" r="2.7" fill="#0b4ea6"/>
<circle cx="473.6" cy="163.4" r="2.7" fill="#0b4ea6"/>
<circle cx="477.3" cy="160.9" r="2.7" fill="#0b4ea6"/>
<circle cx="480.5" cy="158.9" r="2.7" fill="#0b4ea6"/>
<circle cx="484" cy="157.4" r="2.7" fill="#0b4ea6"/>
<circle cx="487.5" cy="155.9" r="2.7" fill="#0b4ea6"/>
<circle cx="491" cy="154.9" r="2.7" fill="#0b4ea6"/>
<circle cx="494.5" cy="153.9" r="2.7" fill="#0b4ea6"/>
<circle cx="497" cy="153.5" r="2.7" fill="#0b4ea6"/>
<circle cx="499.9" cy="153.8" r="2.7" fill="#0b4ea6"/>
<circle cx="503.5" cy="156.5" r="2.7" fill="#0b4ea6"/>
<circle cx="507.2" cy="160.2" r="2.7" fill="#0b4ea6"/>
<circle cx="509.9" cy="157.4" r="2.7" fill="#0b4ea6"/>
<circle cx="513.6" cy="155.6" r="2.7" fill="#0b4ea6"/>
<circle cx="517.3" cy="154.7" r="2.7" fill="#0b4ea6"/>
<circle cx="521" cy="153.8" r="2.7" fill="#0b4ea6"/>
<circle cx="523.7" cy="156.5" r="2.7" fill="#0b4ea6"/>
<path d="M443.5 216 L446.1 209 L447.9 203.5 L449.8 199 L452.5 194.9 L456.2 188.4 L458.9 183.9 L462.6 178.4 L466.3 173 L469.9 168.4 L473.6 163.8 L477.3 161.1 L480.5 158.9 L483.3 158.3 L487 155.6 L490.7 153.7 L494.3 152.8 L498 153.8 L501 158 L504.4 163.9 L508.1 169.4 L510.9 172.8 L514.5 178.3 L517.5 176 L520 173.7 L523.7 178.3" fill="none" stroke="#0a8c12" stroke-width="1.2" stroke-linejoin="round"/>
<rect x="441.3" y="213.8" width="4.4" height="4.4" fill="#0a8c12"/>
<rect x="443.9" y="206.8" width="4.4" height="4.4" fill="#0a8c12"/>
<rect x="445.7" y="201.3" width="4.4" height="4.4" fill="#0a8c12"/>
<rect x="447.6" y="196.8" width="4.4" height="4.4" fill="#0a8c12"/>
<rect x="450.3" y="192.7" width="4.4" height="4.4" fill="#0a8c12"/>
<rect x="454" y="186.2" width="4.4" height="4.4" fill="#0a8c12"/>
<rect x="456.7" y="181.7" width="4.4" height="4.4" fill="#0a8c12"/>
<rect x="460.4" y="176.2" width="4.4" height="4.4" fill="#0a8c12"/>
<rect x="464.1" y="170.8" width="4.4" height="4.4" fill="#0a8c12"/>
<rect x="467.7" y="166.2" width="4.4" height="4.4" fill="#0a8c12"/>
<rect x="471.4" y="161.6" width="4.4" height="4.4" fill="#0a8c12"/>
<rect x="475.1" y="158.9" width="4.4" height="4.4" fill="#0a8c12"/>
<rect x="478.3" y="156.7" width="4.4" height="4.4" fill="#0a8c12"/>
<rect x="481.1" y="156.1" width="4.4" height="4.4" fill="#0a8c12"/>
<rect x="484.8" y="153.4" width="4.4" height="4.4" fill="#0a8c12"/>
<rect x="488.5" y="151.5" width="4.4" height="4.4" fill="#0a8c12"/>
<rect x="492.1" y="150.6" width="4.4" height="4.4" fill="#0a8c12"/>
<rect x="495.8" y="151.6" width="4.4" height="4.4" fill="#0a8c12"/>
<rect x="498.8" y="155.8" width="4.4" height="4.4" fill="#0a8c12"/>
<rect x="502.2" y="161.7" width="4.4" height="4.4" fill="#0a8c12"/>
<rect x="505.9" y="167.2" width="4.4" height="4.4" fill="#0a8c12"/>
<rect x="508.7" y="170.6" width="4.4" height="4.4" fill="#0a8c12"/>
<rect x="512.3" y="176.1" width="4.4" height="4.4" fill="#0a8c12"/>
<rect x="515.3" y="173.8" width="4.4" height="4.4" fill="#0a8c12"/>
<rect x="517.8" y="171.5" width="4.4" height="4.4" fill="#0a8c12"/>
<rect x="521.5" y="176.1" width="4.4" height="4.4" fill="#0a8c12"/>
<path d="M443.5 218.7 L446.1 211.2 L447.9 205.7 L449.8 201.2 L452.5 196.2 L456.2 189.7 L458.9 185.2 L462.6 179.7 L466.3 174.7 L469.9 170.2 L473.6 165.7 L477.3 163.2 L480.5 161.2 L484 160.2 L487 158.6 L490.7 157.2 L494.3 155.9 L498 156.8 L500.8 158.3 L503.5 165 L506.5 172 L509.5 179 L512 185 L514.5 187.4 L518.2 184.7 L522.8 183.8" fill="none" stroke="#8fd03a" stroke-width="1.2" stroke-linejoin="round"/>
<path d="M443.5 215.7L446.5 218.7L443.5 221.7L440.5 218.7Z" fill="#8fd03a"/>
<path d="M446.1 208.2L449.1 211.2L446.1 214.2L443.1 211.2Z" fill="#8fd03a"/>
<path d="M447.9 202.7L450.9 205.7L447.9 208.7L444.9 205.7Z" fill="#8fd03a"/>
<path d="M449.8 198.2L452.8 201.2L449.8 204.2L446.8 201.2Z" fill="#8fd03a"/>
<path d="M452.5 193.2L455.5 196.2L452.5 199.2L449.5 196.2Z" fill="#8fd03a"/>
<path d="M456.2 186.7L459.2 189.7L456.2 192.7L453.2 189.7Z" fill="#8fd03a"/>
<path d="M458.9 182.2L461.9 185.2L458.9 188.2L455.9 185.2Z" fill="#8fd03a"/>
<path d="M462.6 176.7L465.6 179.7L462.6 182.7L459.6 179.7Z" fill="#8fd03a"/>
<path d="M466.3 171.7L469.3 174.7L466.3 177.7L463.3 174.7Z" fill="#8fd03a"/>
<path d="M469.9 167.2L472.9 170.2L469.9 173.2L466.9 170.2Z" fill="#8fd03a"/>
<path d="M473.6 162.7L476.6 165.7L473.6 168.7L470.6 165.7Z" fill="#8fd03a"/>
<path d="M477.3 160.2L480.3 163.2L477.3 166.2L474.3 163.2Z" fill="#8fd03a"/>
<path d="M480.5 158.2L483.5 161.2L480.5 164.2L477.5 161.2Z" fill="#8fd03a"/>
<path d="M484 157.2L487 160.2L484 163.2L481 160.2Z" fill="#8fd03a"/>
<path d="M487 155.6L490 158.6L487 161.6L484 158.6Z" fill="#8fd03a"/>
<path d="M490.7 154.2L493.7 157.2L490.7 160.2L487.7 157.2Z" fill="#8fd03a"/>
<path d="M494.3 152.9L497.3 155.9L494.3 158.9L491.3 155.9Z" fill="#8fd03a"/>
<path d="M498 153.8L501 156.8L498 159.8L495 156.8Z" fill="#8fd03a"/>
<path d="M500.8 155.3L503.8 158.3L500.8 161.3L497.8 158.3Z" fill="#8fd03a"/>
<path d="M503.5 162L506.5 165L503.5 168L500.5 165Z" fill="#8fd03a"/>
<path d="M506.5 169L509.5 172L506.5 175L503.5 172Z" fill="#8fd03a"/>
<path d="M509.5 176L512.5 179L509.5 182L506.5 179Z" fill="#8fd03a"/>
<path d="M512 182L515 185L512 188L509 185Z" fill="#8fd03a"/>
<path d="M514.5 184.4L517.5 187.4L514.5 190.4L511.5 187.4Z" fill="#8fd03a"/>
<path d="M518.2 181.7L521.2 184.7L518.2 187.7L515.2 184.7Z" fill="#8fd03a"/>
<path d="M522.8 180.8L525.8 183.8L522.8 186.8L519.8 183.8Z" fill="#8fd03a"/>
<path d="M443.5 218.5 L446.1 211 L447.9 205.5 L449.8 201 L452.5 196.5 L456.2 190 L458.9 186 L462.6 180.5 L466.3 176 L469.9 172 L473.6 168 L477.3 167 L480 173.9 L484.3 164.8 L488.8 158.3 L492.5 159.3 L496 160 L499.5 163 L502.5 168 L505.5 175 L509.9 182.8 L512.7 190.2 L517.3 193.9 L520.5 191 L523.3 189.3" fill="none" stroke="#ffa510" stroke-width="1.2" stroke-linejoin="round"/>
<path d="M443.5 215.4L446.6 220.82L440.4 220.82Z" fill="#ffa510"/>
<path d="M446.1 207.9L449.2 213.32L443 213.32Z" fill="#ffa510"/>
<path d="M447.9 202.4L451 207.82L444.8 207.82Z" fill="#ffa510"/>
<path d="M449.8 197.9L452.9 203.32L446.7 203.32Z" fill="#ffa510"/>
<path d="M452.5 193.4L455.6 198.82L449.4 198.82Z" fill="#ffa510"/>
<path d="M456.2 186.9L459.3 192.32L453.1 192.32Z" fill="#ffa510"/>
<path d="M458.9 182.9L462 188.32L455.8 188.32Z" fill="#ffa510"/>
<path d="M462.6 177.4L465.7 182.82L459.5 182.82Z" fill="#ffa510"/>
<path d="M466.3 172.9L469.4 178.32L463.2 178.32Z" fill="#ffa510"/>
<path d="M469.9 168.9L473 174.32L466.8 174.32Z" fill="#ffa510"/>
<path d="M473.6 164.9L476.7 170.32L470.5 170.32Z" fill="#ffa510"/>
<path d="M477.3 163.9L480.4 169.32L474.2 169.32Z" fill="#ffa510"/>
<path d="M480 170.8L483.1 176.22L476.9 176.22Z" fill="#ffa510"/>
<path d="M484.3 161.7L487.4 167.12L481.2 167.12Z" fill="#ffa510"/>
<path d="M488.8 155.2L491.9 160.62L485.7 160.62Z" fill="#ffa510"/>
<path d="M492.5 156.2L495.6 161.62L489.4 161.62Z" fill="#ffa510"/>
<path d="M496 156.9L499.1 162.32L492.9 162.32Z" fill="#ffa510"/>
<path d="M499.5 159.9L502.6 165.32L496.4 165.32Z" fill="#ffa510"/>
<path d="M502.5 164.9L505.6 170.32L499.4 170.32Z" fill="#ffa510"/>
<path d="M505.5 171.9L508.6 177.32L502.4 177.32Z" fill="#ffa510"/>
<path d="M509.9 179.7L513 185.12L506.8 185.12Z" fill="#ffa510"/>
<path d="M512.7 187.1L515.8 192.52L509.6 192.52Z" fill="#ffa510"/>
<path d="M517.3 190.8L520.4 196.22L514.2 196.22Z" fill="#ffa510"/>
<path d="M520.5 187.9L523.6 193.32L517.4 193.32Z" fill="#ffa510"/>
<path d="M523.3 186.2L526.4 191.62L520.2 191.62Z" fill="#ffa510"/>
<path d="M443.7 219.4 L446.5 212 L448.3 206.5 L450.2 202 L452.9 197.5 L456.6 192 L460.8 185 L464.4 180.4 L468.1 181.4 L470.9 176.8 L473.6 169.4 L476.4 170.4 L479 172 L481.9 166.6 L483.7 162 L487 169.4 L489.8 164.8 L493.4 160.2 L496 161 L498.9 162 L501.7 167.5 L504.4 173 L506.3 178.5 L509.9 189.3 L512.7 196.6 L516.4 202.1 L520 200.3 L522.8 193.9 L524.6 192" fill="none" stroke="#e8141c" stroke-width="1.2" stroke-linejoin="round"/>
<path d="M440.6 219.4L446.02 216.3L446.02 222.5Z" fill="#e8141c"/>
<path d="M443.4 212L448.82 208.9L448.82 215.1Z" fill="#e8141c"/>
<path d="M445.2 206.5L450.62 203.4L450.62 209.6Z" fill="#e8141c"/>
<path d="M447.1 202L452.52 198.9L452.52 205.1Z" fill="#e8141c"/>
<path d="M449.8 197.5L455.22 194.4L455.22 200.6Z" fill="#e8141c"/>
<path d="M453.5 192L458.93 188.9L458.93 195.1Z" fill="#e8141c"/>
<path d="M457.7 185L463.12 181.9L463.12 188.1Z" fill="#e8141c"/>
<path d="M461.3 180.4L466.72 177.3L466.72 183.5Z" fill="#e8141c"/>
<path d="M465 181.4L470.43 178.3L470.43 184.5Z" fill="#e8141c"/>
<path d="M467.8 176.8L473.22 173.7L473.22 179.9Z" fill="#e8141c"/>
<path d="M470.5 169.4L475.93 166.3L475.93 172.5Z" fill="#e8141c"/>
<path d="M473.3 170.4L478.72 167.3L478.72 173.5Z" fill="#e8141c"/>
<path d="M475.9 172L481.32 168.9L481.32 175.1Z" fill="#e8141c"/>
<path d="M478.8 166.6L484.22 163.5L484.22 169.7Z" fill="#e8141c"/>
<path d="M480.6 162L486.02 158.9L486.02 165.1Z" fill="#e8141c"/>
<path d="M483.9 169.4L489.32 166.3L489.32 172.5Z" fill="#e8141c"/>
<path d="M486.7 164.8L492.12 161.7L492.12 167.9Z" fill="#e8141c"/>
<path d="M490.3 160.2L495.72 157.1L495.72 163.3Z" fill="#e8141c"/>
<path d="M492.9 161L498.32 157.9L498.32 164.1Z" fill="#e8141c"/>
<path d="M495.8 162L501.22 158.9L501.22 165.1Z" fill="#e8141c"/>
<path d="M498.6 167.5L504.02 164.4L504.02 170.6Z" fill="#e8141c"/>
<path d="M501.3 173L506.72 169.9L506.72 176.1Z" fill="#e8141c"/>
<path d="M503.2 178.5L508.62 175.4L508.62 181.6Z" fill="#e8141c"/>
<path d="M506.8 189.3L512.23 186.2L512.23 192.4Z" fill="#e8141c"/>
<path d="M509.6 196.6L515.03 193.5L515.03 199.7Z" fill="#e8141c"/>
<path d="M513.3 202.1L518.73 199L518.73 205.2Z" fill="#e8141c"/>
<path d="M516.9 200.3L522.33 197.2L522.33 203.4Z" fill="#e8141c"/>
<path d="M519.7 193.9L525.12 190.8L525.12 197Z" fill="#e8141c"/>
<path d="M521.5 192L526.93 188.9L526.93 195.1Z" fill="#e8141c"/>
</g>
<path d="M439.6 144.5V227.3H527" fill="none" stroke="#1a1a1a" stroke-width="1"/>
<path d="M439.6 144.5h4.5M439.6 165.2h2.5M439.6 185.9h4.5M439.6 206.6h2.5M461.45 227.3v-2.5M483.3 227.3v-4.5M505.15 227.3v-2.5M527 227.3v-4.5" fill="none" stroke="#1a1a1a" stroke-width="1"/>
<text x="436.2" y="149" text-anchor="end" class="t">0.70</text>
<text x="436.2" y="190.4" text-anchor="end" class="t">0.35</text>
<text x="436.2" y="231.8" text-anchor="end" class="t">0.00</text>
<text x="439.8" y="240.8" text-anchor="middle" class="t">0</text>
<text x="483.5" y="240.8" text-anchor="middle" class="t">0.5</text>
<text x="527.2" y="240.8" text-anchor="middle" class="t">1</text>
<text x="483.3" y="251.9" text-anchor="middle" class="ax">a</text>
<clipPath id="c14"><rect x="566.6" y="144.5" width="97.4" height="86.8"/></clipPath>
<g clip-path="url(#c14)">
<path d="M574.3 207.1 L578.2 202.5 L582 196.5 L586 193.2 L589.9 190.5 L593 187.2 L596 184.6 L599.5 180.7 L603 177.6 L606.5 174.7 L609.8 172.6 L612.8 171 L615.8 169.6 L618.8 168 L621.8 166.6 L625.5 167.5 L628.8 168.6 L632.3 169.5 L635.7 170.6 L638.5 173 L641.3 172 L644.7 167 L647.6 172 L650.8 154.4 L655 156" fill="none" stroke="#0b4ea6" stroke-width="1.2" stroke-linejoin="round"/>
<circle cx="574.3" cy="207.1" r="2.7" fill="#0b4ea6"/>
<circle cx="578.2" cy="202.5" r="2.7" fill="#0b4ea6"/>
<circle cx="582" cy="196.5" r="2.7" fill="#0b4ea6"/>
<circle cx="586" cy="193.2" r="2.7" fill="#0b4ea6"/>
<circle cx="589.9" cy="190.5" r="2.7" fill="#0b4ea6"/>
<circle cx="593" cy="187.2" r="2.7" fill="#0b4ea6"/>
<circle cx="596" cy="184.6" r="2.7" fill="#0b4ea6"/>
<circle cx="599.5" cy="180.7" r="2.7" fill="#0b4ea6"/>
<circle cx="603" cy="177.6" r="2.7" fill="#0b4ea6"/>
<circle cx="606.5" cy="174.7" r="2.7" fill="#0b4ea6"/>
<circle cx="609.8" cy="172.6" r="2.7" fill="#0b4ea6"/>
<circle cx="612.8" cy="171" r="2.7" fill="#0b4ea6"/>
<circle cx="615.8" cy="169.6" r="2.7" fill="#0b4ea6"/>
<circle cx="618.8" cy="168" r="2.7" fill="#0b4ea6"/>
<circle cx="621.8" cy="166.6" r="2.7" fill="#0b4ea6"/>
<circle cx="625.5" cy="167.5" r="2.7" fill="#0b4ea6"/>
<circle cx="628.8" cy="168.6" r="2.7" fill="#0b4ea6"/>
<circle cx="632.3" cy="169.5" r="2.7" fill="#0b4ea6"/>
<circle cx="635.7" cy="170.6" r="2.7" fill="#0b4ea6"/>
<circle cx="638.5" cy="173" r="2.7" fill="#0b4ea6"/>
<circle cx="641.3" cy="172" r="2.7" fill="#0b4ea6"/>
<circle cx="644.7" cy="167" r="2.7" fill="#0b4ea6"/>
<circle cx="647.6" cy="172" r="2.7" fill="#0b4ea6"/>
<circle cx="650.8" cy="154.4" r="2.7" fill="#0b4ea6"/>
<circle cx="655" cy="156" r="2.7" fill="#0b4ea6"/>
<path d="M574.5 205 L578 196 L582.6 184.2 L586 180 L589.9 177.8 L593.5 173 L597.3 169.4 L600.9 166.6 L604.6 163.9 L608.3 162.9 L612 162 L613.3 160.2 L617.8 158.3 L621 157 L624.5 155.5 L627.5 155 L630.7 153.8 L635.3 154.7 L638.5 156.5 L641.7 158.3 L645 175 L648.5 190 L651.8 191 L654.3 152" fill="none" stroke="#0a8c12" stroke-width="1.2" stroke-linejoin="round"/>
<rect x="572.3" y="202.8" width="4.4" height="4.4" fill="#0a8c12"/>
<rect x="575.8" y="193.8" width="4.4" height="4.4" fill="#0a8c12"/>
<rect x="580.4" y="182" width="4.4" height="4.4" fill="#0a8c12"/>
<rect x="583.8" y="177.8" width="4.4" height="4.4" fill="#0a8c12"/>
<rect x="587.7" y="175.6" width="4.4" height="4.4" fill="#0a8c12"/>
<rect x="591.3" y="170.8" width="4.4" height="4.4" fill="#0a8c12"/>
<rect x="595.1" y="167.2" width="4.4" height="4.4" fill="#0a8c12"/>
<rect x="598.7" y="164.4" width="4.4" height="4.4" fill="#0a8c12"/>
<rect x="602.4" y="161.7" width="4.4" height="4.4" fill="#0a8c12"/>
<rect x="606.1" y="160.7" width="4.4" height="4.4" fill="#0a8c12"/>
<rect x="609.8" y="159.8" width="4.4" height="4.4" fill="#0a8c12"/>
<rect x="611.1" y="158" width="4.4" height="4.4" fill="#0a8c12"/>
<rect x="615.6" y="156.1" width="4.4" height="4.4" fill="#0a8c12"/>
<rect x="618.8" y="154.8" width="4.4" height="4.4" fill="#0a8c12"/>
<rect x="622.3" y="153.3" width="4.4" height="4.4" fill="#0a8c12"/>
<rect x="625.3" y="152.8" width="4.4" height="4.4" fill="#0a8c12"/>
<rect x="628.5" y="151.6" width="4.4" height="4.4" fill="#0a8c12"/>
<rect x="633.1" y="152.5" width="4.4" height="4.4" fill="#0a8c12"/>
<rect x="636.3" y="154.3" width="4.4" height="4.4" fill="#0a8c12"/>
<rect x="639.5" y="156.1" width="4.4" height="4.4" fill="#0a8c12"/>
<rect x="642.8" y="172.8" width="4.4" height="4.4" fill="#0a8c12"/>
<rect x="646.3" y="187.8" width="4.4" height="4.4" fill="#0a8c12"/>
<rect x="649.6" y="188.8" width="4.4" height="4.4" fill="#0a8c12"/>
<rect x="652.1" y="149.8" width="4.4" height="4.4" fill="#0a8c12"/>
<path d="M574.3 204.4 L578 198 L582 192 L585.5 187.5 L589 184 L592.5 180 L596 175.5 L599.5 172 L603 168 L606.5 165 L610 162.5 L613.5 160.5 L617 157 L620.6 152.8 L624.3 153.8 L627.9 154.7 L631.5 155.5 L635.3 156.5 L638.9 158.3 L642 162 L645 172 L648.5 190 L651.5 160.5 L653.6 198.3" fill="none" stroke="#8fd03a" stroke-width="1.2" stroke-linejoin="round"/>
<path d="M574.3 201.4L577.3 204.4L574.3 207.4L571.3 204.4Z" fill="#8fd03a"/>
<path d="M578 195L581 198L578 201L575 198Z" fill="#8fd03a"/>
<path d="M582 189L585 192L582 195L579 192Z" fill="#8fd03a"/>
<path d="M585.5 184.5L588.5 187.5L585.5 190.5L582.5 187.5Z" fill="#8fd03a"/>
<path d="M589 181L592 184L589 187L586 184Z" fill="#8fd03a"/>
<path d="M592.5 177L595.5 180L592.5 183L589.5 180Z" fill="#8fd03a"/>
<path d="M596 172.5L599 175.5L596 178.5L593 175.5Z" fill="#8fd03a"/>
<path d="M599.5 169L602.5 172L599.5 175L596.5 172Z" fill="#8fd03a"/>
<path d="M603 165L606 168L603 171L600 168Z" fill="#8fd03a"/>
<path d="M606.5 162L609.5 165L606.5 168L603.5 165Z" fill="#8fd03a"/>
<path d="M610 159.5L613 162.5L610 165.5L607 162.5Z" fill="#8fd03a"/>
<path d="M613.5 157.5L616.5 160.5L613.5 163.5L610.5 160.5Z" fill="#8fd03a"/>
<path d="M617 154L620 157L617 160L614 157Z" fill="#8fd03a"/>
<path d="M620.6 149.8L623.6 152.8L620.6 155.8L617.6 152.8Z" fill="#8fd03a"/>
<path d="M624.3 150.8L627.3 153.8L624.3 156.8L621.3 153.8Z" fill="#8fd03a"/>
<path d="M627.9 151.7L630.9 154.7L627.9 157.7L624.9 154.7Z" fill="#8fd03a"/>
<path d="M631.5 152.5L634.5 155.5L631.5 158.5L628.5 155.5Z" fill="#8fd03a"/>
<path d="M635.3 153.5L638.3 156.5L635.3 159.5L632.3 156.5Z" fill="#8fd03a"/>
<path d="M638.9 155.3L641.9 158.3L638.9 161.3L635.9 158.3Z" fill="#8fd03a"/>
<path d="M642 159L645 162L642 165L639 162Z" fill="#8fd03a"/>
<path d="M645 169L648 172L645 175L642 172Z" fill="#8fd03a"/>
<path d="M648.5 187L651.5 190L648.5 193L645.5 190Z" fill="#8fd03a"/>
<path d="M651.5 157.5L654.5 160.5L651.5 163.5L648.5 160.5Z" fill="#8fd03a"/>
<path d="M653.6 195.3L656.6 198.3L653.6 201.3L650.6 198.3Z" fill="#8fd03a"/>
<path d="M575.3 211.7 L578.5 203 L582 195.8 L586 192.5 L589.9 189.8 L593 186.5 L595.9 183.9 L599.5 180 L602.9 176.9 L606.5 174 L609.8 171.9 L612.8 170.3 L615.8 168.9 L618.8 167.3 L621.8 165.9 L625.5 166.8 L628.8 167.9 L632.3 168.8 L635.7 169.9 L639 172 L642 174 L646 193.8 L650.7 214.5 L654.7 220.9" fill="none" stroke="#ffa510" stroke-width="1.2" stroke-linejoin="round"/>
<path d="M575.3 208.6L578.4 214.02L572.2 214.02Z" fill="#ffa510"/>
<path d="M578.5 199.9L581.6 205.32L575.4 205.32Z" fill="#ffa510"/>
<path d="M582 192.7L585.1 198.12L578.9 198.12Z" fill="#ffa510"/>
<path d="M586 189.4L589.1 194.82L582.9 194.82Z" fill="#ffa510"/>
<path d="M589.9 186.7L593 192.12L586.8 192.12Z" fill="#ffa510"/>
<path d="M593 183.4L596.1 188.82L589.9 188.82Z" fill="#ffa510"/>
<path d="M595.9 180.8L599 186.22L592.8 186.22Z" fill="#ffa510"/>
<path d="M599.5 176.9L602.6 182.32L596.4 182.32Z" fill="#ffa510"/>
<path d="M602.9 173.8L606 179.22L599.8 179.22Z" fill="#ffa510"/>
<path d="M606.5 170.9L609.6 176.32L603.4 176.32Z" fill="#ffa510"/>
<path d="M609.8 168.8L612.9 174.22L606.7 174.22Z" fill="#ffa510"/>
<path d="M612.8 167.2L615.9 172.62L609.7 172.62Z" fill="#ffa510"/>
<path d="M615.8 165.8L618.9 171.22L612.7 171.22Z" fill="#ffa510"/>
<path d="M618.8 164.2L621.9 169.62L615.7 169.62Z" fill="#ffa510"/>
<path d="M621.8 162.8L624.9 168.22L618.7 168.22Z" fill="#ffa510"/>
<path d="M625.5 163.7L628.6 169.12L622.4 169.12Z" fill="#ffa510"/>
<path d="M628.8 164.8L631.9 170.22L625.7 170.22Z" fill="#ffa510"/>
<path d="M632.3 165.7L635.4 171.12L629.2 171.12Z" fill="#ffa510"/>
<path d="M635.7 166.8L638.8 172.22L632.6 172.22Z" fill="#ffa510"/>
<path d="M639 168.9L642.1 174.32L635.9 174.32Z" fill="#ffa510"/>
<path d="M642 170.9L645.1 176.32L638.9 176.32Z" fill="#ffa510"/>
<path d="M646 190.7L649.1 196.12L642.9 196.12Z" fill="#ffa510"/>
<path d="M650.7 211.4L653.8 216.82L647.6 216.82Z" fill="#ffa510"/>
<path d="M654.7 217.8L657.8 223.22L651.6 223.22Z" fill="#ffa510"/>
<path d="M574.3 208.9 L577 199 L579.8 192.4 L583 188 L586.5 185.5 L589.9 182 L592.9 178.9 L596.5 176.3 L599.9 173.9 L603.5 171.3 L606.9 168.9 L610 166.8 L612.8 164.9 L616.3 163.3 L619.8 162 L623.8 162.3 L627.8 163 L630.8 164 L633.7 165 L637.2 166 L640.7 167 L643.6 189 L647.1 175.9 L650.7 208.9 L654.7 214.5" fill="none" stroke="#e8141c" stroke-width="1.2" stroke-linejoin="round"/>
<path d="M571.2 208.9L576.62 205.8L576.62 212Z" fill="#e8141c"/>
<path d="M573.9 199L579.33 195.9L579.33 202.1Z" fill="#e8141c"/>
<path d="M576.7 192.4L582.12 189.3L582.12 195.5Z" fill="#e8141c"/>
<path d="M579.9 188L585.33 184.9L585.33 191.1Z" fill="#e8141c"/>
<path d="M583.4 185.5L588.83 182.4L588.83 188.6Z" fill="#e8141c"/>
<path d="M586.8 182L592.23 178.9L592.23 185.1Z" fill="#e8141c"/>
<path d="M589.8 178.9L595.23 175.8L595.23 182Z" fill="#e8141c"/>
<path d="M593.4 176.3L598.83 173.2L598.83 179.4Z" fill="#e8141c"/>
<path d="M596.8 173.9L602.23 170.8L602.23 177Z" fill="#e8141c"/>
<path d="M600.4 171.3L605.83 168.2L605.83 174.4Z" fill="#e8141c"/>
<path d="M603.8 168.9L609.23 165.8L609.23 172Z" fill="#e8141c"/>
<path d="M606.9 166.8L612.33 163.7L612.33 169.9Z" fill="#e8141c"/>
<path d="M609.7 164.9L615.12 161.8L615.12 168Z" fill="#e8141c"/>
<path d="M613.2 163.3L618.62 160.2L618.62 166.4Z" fill="#e8141c"/>
<path d="M616.7 162L622.12 158.9L622.12 165.1Z" fill="#e8141c"/>
<path d="M620.7 162.3L626.12 159.2L626.12 165.4Z" fill="#e8141c"/>
<path d="M624.7 163L630.12 159.9L630.12 166.1Z" fill="#e8141c"/>
<path d="M627.7 164L633.12 160.9L633.12 167.1Z" fill="#e8141c"/>
<path d="M630.6 165L636.03 161.9L636.03 168.1Z" fill="#e8141c"/>
<path d="M634.1 166L639.53 162.9L639.53 169.1Z" fill="#e8141c"/>
<path d="M637.6 167L643.03 163.9L643.03 170.1Z" fill="#e8141c"/>
<path d="M640.5 189L645.93 185.9L645.93 192.1Z" fill="#e8141c"/>
<path d="M644 175.9L649.43 172.8L649.43 179Z" fill="#e8141c"/>
<path d="M647.6 208.9L653.03 205.8L653.03 212Z" fill="#e8141c"/>
<path d="M651.6 214.5L657.03 211.4L657.03 217.6Z" fill="#e8141c"/>
</g>
<path d="M570.6 144.5V227.3H658" fill="none" stroke="#1a1a1a" stroke-width="1"/>
<path d="M570.6 144.5h4.5M570.6 165.2h2.5M570.6 185.9h4.5M570.6 206.6h2.5M592.45 227.3v-2.5M614.3 227.3v-4.5M636.15 227.3v-2.5M658 227.3v-4.5" fill="none" stroke="#1a1a1a" stroke-width="1"/>
<text x="567.2" y="149" text-anchor="end" class="t">1.00</text>
<text x="567.2" y="190.4" text-anchor="end" class="t">0.50</text>
<text x="567.2" y="231.8" text-anchor="end" class="t">0.00</text>
<text x="570.8" y="240.8" text-anchor="middle" class="t">0</text>
<text x="614.5" y="240.8" text-anchor="middle" class="t">0.5</text>
<text x="658.2" y="240.8" text-anchor="middle" class="t">1</text>
<text x="614.3" y="251.9" text-anchor="middle" class="ax">a</text>
<g transform="translate(19.5,61) rotate(-90)"><text x="0" y="0" text-anchor="middle" class="ax">s</text><path d="M-2.5 -10.5h5.5" stroke="#111" stroke-width="1.2"/></g>
<g transform="translate(11.8,186) rotate(-90)"><text x="0" y="0" text-anchor="middle" class="ax">p<tspan dy="5" font-size="9.5">s</tspan><tspan dy="-5"> / s</tspan></text><path d="M9 -11.3H15" stroke="#111" stroke-width="1.2"/></g>
<path d="M596.2 22.4H610.4" stroke="#0b4ea6" stroke-width="1.3"/>
<circle cx="596.2" cy="22.4" r="2.7" fill="#0b4ea6"/>
<circle cx="610.4" cy="22.4" r="2.7" fill="#0b4ea6"/>
<text x="617" y="26.4" class="lg">1000</text>
<path d="M596.2 34.15H610.4" stroke="#0a8c12" stroke-width="1.3"/>
<rect x="594" y="31.95" width="4.4" height="4.4" fill="#0a8c12"/>
<rect x="608.2" y="31.95" width="4.4" height="4.4" fill="#0a8c12"/>
<text x="617" y="38.15" class="lg">3000</text>
<path d="M596.2 45.9H610.4" stroke="#8fd03a" stroke-width="1.3"/>
<path d="M596.2 42.9L599.2 45.9L596.2 48.9L593.2 45.9Z" fill="#8fd03a"/>
<path d="M610.4 42.9L613.4 45.9L610.4 48.9L607.4 45.9Z" fill="#8fd03a"/>
<text x="617" y="49.9" class="lg">5000</text>
<path d="M596.2 57.65H610.4" stroke="#ffa510" stroke-width="1.3"/>
<path d="M596.2 54.55L599.3 59.98L593.1 59.98Z" fill="#ffa510"/>
<path d="M610.4 54.55L613.5 59.98L607.3 59.98Z" fill="#ffa510"/>
<text x="617" y="61.65" class="lg">7000</text>
<path d="M596.2 69.4H610.4" stroke="#e8141c" stroke-width="1.3"/>
<path d="M593.1 69.4L598.53 66.3L598.53 72.5Z" fill="#e8141c"/>
<path d="M607.3 69.4L612.73 66.3L612.73 72.5Z" fill="#e8141c"/>
<text x="617" y="73.4" class="lg">9000</text>
</svg></body></html>
